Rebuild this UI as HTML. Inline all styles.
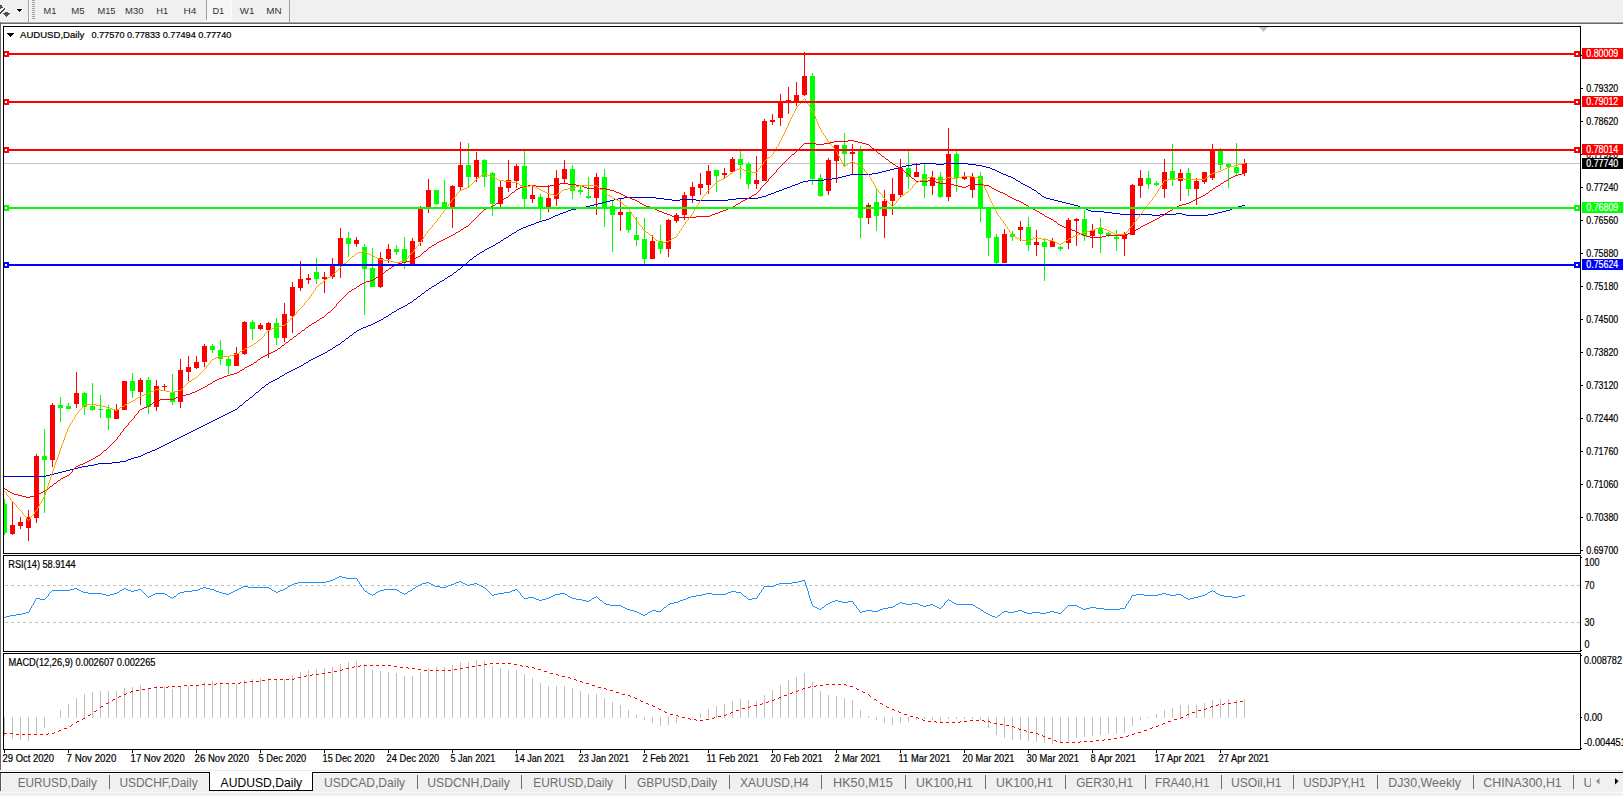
<!DOCTYPE html><html><head><meta charset="utf-8"><style>
html,body{margin:0;padding:0;width:1623px;height:796px;overflow:hidden;background:#fff}
svg{display:block;font-family:"Liberation Sans",sans-serif}
</style></head><body>
<svg width="1623" height="796" viewBox="0 0 1623 796">
<rect x="0" y="0" width="1623" height="22" fill="#f0f0f0"/>
<rect x="0" y="21" width="1623" height="1" fill="#f7f7f7"/>
<rect x="0" y="22" width="1623" height="1" fill="#a8a8a8"/>
<rect x="0" y="23" width="1623" height="1" fill="#6b6b6b"/>
<path d="M0 5h1v1h-1zM1 5h1v1h-1zM0 6h1v1h-1zM1 6h1v1h-1zM0 7h1v1h-1zM1 7h1v1h-1zM2 7h1v1h-1zM0 8h1v1h-1zM4 8h1v1h-1zM3 9h1v1h-1zM4 9h1v1h-1zM2 10h1v1h-1zM3 10h1v1h-1zM1 11h1v1h-1zM2 11h1v1h-1zM0 12h1v1h-1zM1 12h1v1h-1zM0 13h1v1h-1z" fill="#4a4a4a" shape-rendering="crispEdges"/>
<path d="M5 12h1v1h-1zM6 12h1v1h-1zM7 12h1v1h-1zM3 13h1v1h-1zM4 13h1v1h-1zM5 13h1v1h-1zM6 13h1v1h-1zM7 13h1v1h-1zM8 13h1v1h-1zM9 13h1v1h-1zM4 14h1v1h-1zM5 14h1v1h-1zM6 14h1v1h-1zM7 14h1v1h-1zM8 14h1v1h-1zM5 15h1v1h-1zM6 15h1v1h-1zM7 15h1v1h-1zM6 16h1v1h-1z" fill="#505050" shape-rendering="crispEdges"/>
<path d="M17 8h5v1h-5zM17 10h1v1h-1zM21 10h1v1h-1zM18 11h1v1h-1zM20 11h1v1h-1zM19 12h1v1h-1zM16 9h1v1h-1zM22 9h1v1h-1z" fill="#fff" shape-rendering="crispEdges"/>
<path d="M17 9h5v1h-1v1h-1v1h-1v-1h-1v-1h-1z" fill="#000" shape-rendering="crispEdges"/>
<rect x="28" y="0" width="1" height="22" fill="#a0a0a0"/>
<rect x="29" y="0" width="1" height="22" fill="#fafafa"/>
<rect x="32" y="0" width="3" height="1" fill="#a0a0a0"/>
<rect x="32" y="2" width="3" height="1" fill="#a0a0a0"/>
<rect x="32" y="4" width="3" height="1" fill="#a0a0a0"/>
<rect x="32" y="6" width="3" height="1" fill="#a0a0a0"/>
<rect x="32" y="8" width="3" height="1" fill="#a0a0a0"/>
<rect x="32" y="10" width="3" height="1" fill="#a0a0a0"/>
<rect x="32" y="12" width="3" height="1" fill="#a0a0a0"/>
<rect x="32" y="14" width="3" height="1" fill="#a0a0a0"/>
<rect x="32" y="16" width="3" height="1" fill="#a0a0a0"/>
<rect x="32" y="18" width="3" height="1" fill="#a0a0a0"/>
<defs><pattern id="chk" x="0" y="0" width="2" height="2" patternUnits="userSpaceOnUse"><rect width="2" height="2" fill="#f0f0f0"/><rect width="1" height="1" fill="#fcfcfc"/><rect x="1" y="1" width="1" height="1" fill="#fcfcfc"/></pattern></defs>
<rect x="207" y="0" width="24" height="20" fill="url(#chk)" shape-rendering="crispEdges"/>
<rect x="231" y="0" width="1" height="21" fill="#fcfcfc"/>
<rect x="206" y="20" width="26" height="1" fill="#fcfcfc"/>
<rect x="206" y="0" width="1" height="20" fill="#a0a0a0"/>
<rect x="289" y="0" width="1" height="22" fill="#a0a0a0"/>
<text x="43.5" y="14" font-size="9.9" fill="#333" stroke="#333" stroke-width="0" textLength="12.8" lengthAdjust="spacingAndGlyphs">M1</text>
<text x="71.2" y="14" font-size="9.9" fill="#333" stroke="#333" stroke-width="0" textLength="13.3" lengthAdjust="spacingAndGlyphs">M5</text>
<text x="97.4" y="14" font-size="9.9" fill="#333" stroke="#333" stroke-width="0" textLength="18.1" lengthAdjust="spacingAndGlyphs">M15</text>
<text x="125.1" y="14" font-size="9.9" fill="#333" stroke="#333" stroke-width="0" textLength="18.4" lengthAdjust="spacingAndGlyphs">M30</text>
<text x="156.3" y="14" font-size="9.9" fill="#333" stroke="#333" stroke-width="0" textLength="11.9" lengthAdjust="spacingAndGlyphs">H1</text>
<text x="183.4" y="14" font-size="9.9" fill="#333" stroke="#333" stroke-width="0" textLength="12.9" lengthAdjust="spacingAndGlyphs">H4</text>
<text x="212.4" y="14" font-size="9.9" fill="#333" stroke="#333" stroke-width="0" textLength="11.8" lengthAdjust="spacingAndGlyphs">D1</text>
<text x="239.8" y="14" font-size="9.9" fill="#333" stroke="#333" stroke-width="0" textLength="14.6" lengthAdjust="spacingAndGlyphs">W1</text>
<text x="266.2" y="14" font-size="9.9" fill="#333" stroke="#333" stroke-width="0" textLength="15.3" lengthAdjust="spacingAndGlyphs">MN</text>
<rect x="0" y="22" width="1" height="748" fill="#6b6b6b"/>
<g shape-rendering="crispEdges" fill="none" stroke="#000" stroke-width="1">
<rect x="3.5" y="26.5" width="1577" height="527"/>
<rect x="3.5" y="555.5" width="1577" height="96"/>
<rect x="3.5" y="653.5" width="1577" height="96"/>
</g>
<svg x="4" y="27" width="1576" height="526" viewBox="4 27 1576 526" overflow="hidden">
<g shape-rendering="crispEdges">
<rect x="4" y="163" width="1576" height="1" fill="#c0c0c0"/>
</g>
<g shape-rendering="crispEdges">
<rect x="4" y="499" width="1" height="36" fill="#00ff00"/>
<rect x="2" y="504" width="5" height="29" fill="#00ff00"/>
<rect x="12" y="502" width="1" height="33" fill="#ff0000"/>
<rect x="10" y="525" width="5" height="9" fill="#ff0000"/>
<rect x="20" y="517" width="1" height="12" fill="#ff0000"/>
<rect x="18" y="522" width="5" height="4" fill="#ff0000"/>
<rect x="28" y="510" width="1" height="31" fill="#ff0000"/>
<rect x="26" y="517" width="5" height="11" fill="#ff0000"/>
<rect x="36" y="454" width="1" height="69" fill="#ff0000"/>
<rect x="34" y="456" width="5" height="62" fill="#ff0000"/>
<rect x="44" y="429" width="1" height="84" fill="#00ff00"/>
<rect x="42" y="456" width="5" height="4" fill="#00ff00"/>
<rect x="52" y="403" width="1" height="64" fill="#ff0000"/>
<rect x="50" y="405" width="5" height="55" fill="#ff0000"/>
<rect x="60" y="397" width="1" height="25" fill="#00ff00"/>
<rect x="58" y="405" width="5" height="3" fill="#00ff00"/>
<rect x="68" y="403" width="1" height="6" fill="#00ff00"/>
<rect x="66" y="406" width="5" height="3" fill="#00ff00"/>
<rect x="76" y="372" width="1" height="36" fill="#ff0000"/>
<rect x="74" y="393" width="5" height="11" fill="#ff0000"/>
<rect x="84" y="392" width="1" height="23" fill="#00ff00"/>
<rect x="82" y="393" width="5" height="14" fill="#00ff00"/>
<rect x="92" y="383" width="1" height="28" fill="#00ff00"/>
<rect x="90" y="406" width="5" height="4" fill="#00ff00"/>
<rect x="100" y="395" width="1" height="23" fill="#00ff00"/>
<rect x="98" y="409" width="5" height="1" fill="#00ff00"/>
<rect x="108" y="405" width="1" height="25" fill="#00ff00"/>
<rect x="106" y="409" width="5" height="9" fill="#00ff00"/>
<rect x="116" y="404" width="1" height="15" fill="#ff0000"/>
<rect x="114" y="410" width="5" height="9" fill="#ff0000"/>
<rect x="124" y="381" width="1" height="29" fill="#ff0000"/>
<rect x="122" y="381" width="5" height="29" fill="#ff0000"/>
<rect x="132" y="373" width="1" height="25" fill="#00ff00"/>
<rect x="130" y="381" width="5" height="10" fill="#00ff00"/>
<rect x="140" y="378" width="1" height="27" fill="#ff0000"/>
<rect x="138" y="380" width="5" height="12" fill="#ff0000"/>
<rect x="148" y="377" width="1" height="37" fill="#00ff00"/>
<rect x="146" y="380" width="5" height="27" fill="#00ff00"/>
<rect x="156" y="380" width="1" height="31" fill="#ff0000"/>
<rect x="154" y="386" width="5" height="21" fill="#ff0000"/>
<rect x="164" y="384" width="1" height="6" fill="#ff0000"/>
<rect x="162" y="386" width="5" height="1" fill="#ff0000"/>
<rect x="172" y="374" width="1" height="31" fill="#00ff00"/>
<rect x="170" y="392" width="5" height="10" fill="#00ff00"/>
<rect x="180" y="359" width="1" height="49" fill="#ff0000"/>
<rect x="178" y="370" width="5" height="32" fill="#ff0000"/>
<rect x="188" y="356" width="1" height="25" fill="#ff0000"/>
<rect x="186" y="367" width="5" height="5" fill="#ff0000"/>
<rect x="196" y="356" width="1" height="13" fill="#ff0000"/>
<rect x="194" y="362" width="5" height="6" fill="#ff0000"/>
<rect x="204" y="344" width="1" height="23" fill="#ff0000"/>
<rect x="202" y="346" width="5" height="16" fill="#ff0000"/>
<rect x="212" y="344" width="1" height="9" fill="#00ff00"/>
<rect x="210" y="346" width="5" height="4" fill="#00ff00"/>
<rect x="220" y="340" width="1" height="25" fill="#00ff00"/>
<rect x="218" y="350" width="5" height="9" fill="#00ff00"/>
<rect x="228" y="357" width="1" height="17" fill="#00ff00"/>
<rect x="226" y="359" width="5" height="7" fill="#00ff00"/>
<rect x="236" y="347" width="1" height="19" fill="#ff0000"/>
<rect x="234" y="353" width="5" height="13" fill="#ff0000"/>
<rect x="244" y="321" width="1" height="34" fill="#ff0000"/>
<rect x="242" y="322" width="5" height="32" fill="#ff0000"/>
<rect x="252" y="320" width="1" height="20" fill="#00ff00"/>
<rect x="250" y="322" width="5" height="7" fill="#00ff00"/>
<rect x="260" y="323" width="1" height="7" fill="#ff0000"/>
<rect x="258" y="325" width="5" height="4" fill="#ff0000"/>
<rect x="268" y="322" width="1" height="36" fill="#ff0000"/>
<rect x="266" y="323" width="5" height="7" fill="#ff0000"/>
<rect x="276" y="318" width="1" height="27" fill="#00ff00"/>
<rect x="274" y="323" width="5" height="15" fill="#00ff00"/>
<rect x="284" y="303" width="1" height="39" fill="#ff0000"/>
<rect x="282" y="314" width="5" height="24" fill="#ff0000"/>
<rect x="292" y="282" width="1" height="51" fill="#ff0000"/>
<rect x="290" y="287" width="5" height="29" fill="#ff0000"/>
<rect x="300" y="261" width="1" height="30" fill="#ff0000"/>
<rect x="298" y="279" width="5" height="9" fill="#ff0000"/>
<rect x="308" y="274" width="1" height="10" fill="#ff0000"/>
<rect x="306" y="278" width="5" height="2" fill="#ff0000"/>
<rect x="316" y="258" width="1" height="26" fill="#00ff00"/>
<rect x="314" y="272" width="5" height="7" fill="#00ff00"/>
<rect x="324" y="272" width="1" height="21" fill="#ff0000"/>
<rect x="322" y="277" width="5" height="2" fill="#ff0000"/>
<rect x="332" y="258" width="1" height="21" fill="#ff0000"/>
<rect x="330" y="265" width="5" height="12" fill="#ff0000"/>
<rect x="340" y="228" width="1" height="50" fill="#ff0000"/>
<rect x="338" y="238" width="5" height="26" fill="#ff0000"/>
<rect x="348" y="232" width="1" height="25" fill="#00ff00"/>
<rect x="346" y="238" width="5" height="6" fill="#00ff00"/>
<rect x="356" y="237" width="1" height="10" fill="#ff0000"/>
<rect x="354" y="240" width="5" height="4" fill="#ff0000"/>
<rect x="364" y="244" width="1" height="71" fill="#00ff00"/>
<rect x="362" y="247" width="5" height="22" fill="#00ff00"/>
<rect x="372" y="248" width="1" height="39" fill="#00ff00"/>
<rect x="370" y="268" width="5" height="19" fill="#00ff00"/>
<rect x="380" y="252" width="1" height="36" fill="#ff0000"/>
<rect x="378" y="258" width="5" height="29" fill="#ff0000"/>
<rect x="388" y="244" width="1" height="19" fill="#ff0000"/>
<rect x="386" y="249" width="5" height="10" fill="#ff0000"/>
<rect x="396" y="245" width="1" height="10" fill="#00ff00"/>
<rect x="394" y="249" width="5" height="3" fill="#00ff00"/>
<rect x="404" y="237" width="1" height="32" fill="#00ff00"/>
<rect x="402" y="249" width="5" height="13" fill="#00ff00"/>
<rect x="412" y="238" width="1" height="26" fill="#ff0000"/>
<rect x="410" y="241" width="5" height="23" fill="#ff0000"/>
<rect x="420" y="206" width="1" height="40" fill="#ff0000"/>
<rect x="418" y="209" width="5" height="33" fill="#ff0000"/>
<rect x="428" y="179" width="1" height="34" fill="#ff0000"/>
<rect x="426" y="190" width="5" height="17" fill="#ff0000"/>
<rect x="436" y="190" width="1" height="15" fill="#00ff00"/>
<rect x="434" y="190" width="5" height="14" fill="#00ff00"/>
<rect x="444" y="180" width="1" height="28" fill="#00ff00"/>
<rect x="442" y="202" width="5" height="6" fill="#00ff00"/>
<rect x="452" y="185" width="1" height="43" fill="#ff0000"/>
<rect x="450" y="186" width="5" height="22" fill="#ff0000"/>
<rect x="460" y="142" width="1" height="48" fill="#ff0000"/>
<rect x="458" y="165" width="5" height="22" fill="#ff0000"/>
<rect x="468" y="143" width="1" height="45" fill="#00ff00"/>
<rect x="466" y="165" width="5" height="12" fill="#00ff00"/>
<rect x="476" y="152" width="1" height="30" fill="#ff0000"/>
<rect x="474" y="160" width="5" height="17" fill="#ff0000"/>
<rect x="484" y="159" width="1" height="28" fill="#00ff00"/>
<rect x="482" y="160" width="5" height="17" fill="#00ff00"/>
<rect x="492" y="172" width="1" height="44" fill="#00ff00"/>
<rect x="490" y="173" width="5" height="31" fill="#00ff00"/>
<rect x="500" y="181" width="1" height="26" fill="#ff0000"/>
<rect x="498" y="187" width="5" height="17" fill="#ff0000"/>
<rect x="508" y="160" width="1" height="32" fill="#ff0000"/>
<rect x="506" y="180" width="5" height="8" fill="#ff0000"/>
<rect x="516" y="164" width="1" height="24" fill="#ff0000"/>
<rect x="514" y="166" width="5" height="15" fill="#ff0000"/>
<rect x="524" y="151" width="1" height="56" fill="#00ff00"/>
<rect x="522" y="166" width="5" height="33" fill="#00ff00"/>
<rect x="532" y="185" width="1" height="18" fill="#ff0000"/>
<rect x="530" y="195" width="5" height="4" fill="#ff0000"/>
<rect x="540" y="194" width="1" height="26" fill="#00ff00"/>
<rect x="538" y="197" width="5" height="10" fill="#00ff00"/>
<rect x="548" y="185" width="1" height="27" fill="#ff0000"/>
<rect x="546" y="198" width="5" height="9" fill="#ff0000"/>
<rect x="556" y="170" width="1" height="36" fill="#ff0000"/>
<rect x="554" y="178" width="5" height="21" fill="#ff0000"/>
<rect x="564" y="160" width="1" height="24" fill="#ff0000"/>
<rect x="562" y="169" width="5" height="10" fill="#ff0000"/>
<rect x="572" y="165" width="1" height="34" fill="#00ff00"/>
<rect x="570" y="169" width="5" height="22" fill="#00ff00"/>
<rect x="580" y="186" width="1" height="9" fill="#00ff00"/>
<rect x="578" y="190" width="5" height="2" fill="#00ff00"/>
<rect x="588" y="177" width="1" height="22" fill="#00ff00"/>
<rect x="586" y="196" width="5" height="2" fill="#00ff00"/>
<rect x="596" y="173" width="1" height="42" fill="#ff0000"/>
<rect x="594" y="177" width="5" height="21" fill="#ff0000"/>
<rect x="604" y="169" width="1" height="58" fill="#00ff00"/>
<rect x="602" y="177" width="5" height="30" fill="#00ff00"/>
<rect x="612" y="200" width="1" height="52" fill="#00ff00"/>
<rect x="610" y="206" width="5" height="9" fill="#00ff00"/>
<rect x="620" y="199" width="1" height="32" fill="#ff0000"/>
<rect x="618" y="212" width="5" height="3" fill="#ff0000"/>
<rect x="628" y="212" width="1" height="21" fill="#00ff00"/>
<rect x="626" y="212" width="5" height="18" fill="#00ff00"/>
<rect x="636" y="217" width="1" height="29" fill="#00ff00"/>
<rect x="634" y="235" width="5" height="5" fill="#00ff00"/>
<rect x="644" y="218" width="1" height="46" fill="#00ff00"/>
<rect x="642" y="239" width="5" height="20" fill="#00ff00"/>
<rect x="652" y="235" width="1" height="24" fill="#ff0000"/>
<rect x="650" y="241" width="5" height="18" fill="#ff0000"/>
<rect x="660" y="225" width="1" height="29" fill="#00ff00"/>
<rect x="658" y="241" width="5" height="8" fill="#00ff00"/>
<rect x="668" y="219" width="1" height="38" fill="#ff0000"/>
<rect x="666" y="220" width="5" height="29" fill="#ff0000"/>
<rect x="676" y="213" width="1" height="10" fill="#ff0000"/>
<rect x="674" y="215" width="5" height="6" fill="#ff0000"/>
<rect x="684" y="192" width="1" height="28" fill="#ff0000"/>
<rect x="682" y="195" width="5" height="20" fill="#ff0000"/>
<rect x="692" y="182" width="1" height="21" fill="#ff0000"/>
<rect x="690" y="187" width="5" height="9" fill="#ff0000"/>
<rect x="700" y="173" width="1" height="22" fill="#ff0000"/>
<rect x="698" y="184" width="5" height="4" fill="#ff0000"/>
<rect x="708" y="165" width="1" height="29" fill="#ff0000"/>
<rect x="706" y="171" width="5" height="14" fill="#ff0000"/>
<rect x="716" y="170" width="1" height="22" fill="#00ff00"/>
<rect x="714" y="170" width="5" height="6" fill="#00ff00"/>
<rect x="724" y="168" width="1" height="10" fill="#ff0000"/>
<rect x="722" y="173" width="5" height="2" fill="#ff0000"/>
<rect x="732" y="157" width="1" height="15" fill="#ff0000"/>
<rect x="730" y="159" width="5" height="13" fill="#ff0000"/>
<rect x="740" y="151" width="1" height="28" fill="#00ff00"/>
<rect x="738" y="159" width="5" height="6" fill="#00ff00"/>
<rect x="748" y="162" width="1" height="27" fill="#00ff00"/>
<rect x="746" y="164" width="5" height="20" fill="#00ff00"/>
<rect x="756" y="156" width="1" height="33" fill="#ff0000"/>
<rect x="754" y="180" width="5" height="4" fill="#ff0000"/>
<rect x="764" y="119" width="1" height="62" fill="#ff0000"/>
<rect x="762" y="121" width="5" height="60" fill="#ff0000"/>
<rect x="772" y="114" width="1" height="11" fill="#ff0000"/>
<rect x="770" y="120" width="5" height="2" fill="#ff0000"/>
<rect x="780" y="94" width="1" height="32" fill="#ff0000"/>
<rect x="778" y="101" width="5" height="17" fill="#ff0000"/>
<rect x="788" y="87" width="1" height="27" fill="#ff0000"/>
<rect x="786" y="100" width="5" height="1" fill="#ff0000"/>
<rect x="796" y="82" width="1" height="24" fill="#ff0000"/>
<rect x="794" y="95" width="5" height="7" fill="#ff0000"/>
<rect x="804" y="52" width="1" height="44" fill="#ff0000"/>
<rect x="802" y="76" width="5" height="19" fill="#ff0000"/>
<rect x="812" y="73" width="1" height="112" fill="#00ff00"/>
<rect x="810" y="76" width="5" height="103" fill="#00ff00"/>
<rect x="820" y="174" width="1" height="23" fill="#00ff00"/>
<rect x="818" y="178" width="5" height="18" fill="#00ff00"/>
<rect x="828" y="158" width="1" height="37" fill="#ff0000"/>
<rect x="826" y="160" width="5" height="31" fill="#ff0000"/>
<rect x="836" y="145" width="1" height="38" fill="#ff0000"/>
<rect x="834" y="145" width="5" height="16" fill="#ff0000"/>
<rect x="844" y="133" width="1" height="33" fill="#00ff00"/>
<rect x="842" y="145" width="5" height="9" fill="#00ff00"/>
<rect x="852" y="144" width="1" height="30" fill="#ff0000"/>
<rect x="850" y="152" width="5" height="2" fill="#ff0000"/>
<rect x="860" y="146" width="1" height="92" fill="#00ff00"/>
<rect x="858" y="150" width="5" height="68" fill="#00ff00"/>
<rect x="868" y="203" width="1" height="21" fill="#ff0000"/>
<rect x="866" y="205" width="5" height="13" fill="#ff0000"/>
<rect x="876" y="189" width="1" height="42" fill="#00ff00"/>
<rect x="874" y="202" width="5" height="14" fill="#00ff00"/>
<rect x="884" y="190" width="1" height="48" fill="#ff0000"/>
<rect x="882" y="201" width="5" height="15" fill="#ff0000"/>
<rect x="892" y="178" width="1" height="37" fill="#ff0000"/>
<rect x="890" y="194" width="5" height="7" fill="#ff0000"/>
<rect x="900" y="159" width="1" height="38" fill="#ff0000"/>
<rect x="898" y="168" width="5" height="27" fill="#ff0000"/>
<rect x="908" y="151" width="1" height="38" fill="#00ff00"/>
<rect x="906" y="168" width="5" height="9" fill="#00ff00"/>
<rect x="916" y="163" width="1" height="14" fill="#ff0000"/>
<rect x="914" y="172" width="5" height="5" fill="#ff0000"/>
<rect x="924" y="164" width="1" height="34" fill="#00ff00"/>
<rect x="922" y="174" width="5" height="12" fill="#00ff00"/>
<rect x="932" y="171" width="1" height="24" fill="#ff0000"/>
<rect x="930" y="177" width="5" height="9" fill="#ff0000"/>
<rect x="940" y="172" width="1" height="26" fill="#00ff00"/>
<rect x="938" y="177" width="5" height="20" fill="#00ff00"/>
<rect x="948" y="128" width="1" height="73" fill="#ff0000"/>
<rect x="946" y="154" width="5" height="43" fill="#ff0000"/>
<rect x="956" y="151" width="1" height="41" fill="#00ff00"/>
<rect x="954" y="154" width="5" height="24" fill="#00ff00"/>
<rect x="964" y="172" width="1" height="8" fill="#ff0000"/>
<rect x="962" y="177" width="5" height="2" fill="#ff0000"/>
<rect x="972" y="173" width="1" height="25" fill="#ff0000"/>
<rect x="970" y="177" width="5" height="13" fill="#ff0000"/>
<rect x="980" y="172" width="1" height="50" fill="#00ff00"/>
<rect x="978" y="176" width="5" height="32" fill="#00ff00"/>
<rect x="988" y="208" width="1" height="48" fill="#00ff00"/>
<rect x="986" y="208" width="5" height="30" fill="#00ff00"/>
<rect x="996" y="234" width="1" height="30" fill="#00ff00"/>
<rect x="994" y="237" width="5" height="26" fill="#00ff00"/>
<rect x="1004" y="229" width="1" height="34" fill="#ff0000"/>
<rect x="1002" y="234" width="5" height="29" fill="#ff0000"/>
<rect x="1012" y="231" width="1" height="10" fill="#00ff00"/>
<rect x="1010" y="234" width="5" height="3" fill="#00ff00"/>
<rect x="1020" y="221" width="1" height="20" fill="#ff0000"/>
<rect x="1018" y="227" width="5" height="3" fill="#ff0000"/>
<rect x="1028" y="217" width="1" height="34" fill="#00ff00"/>
<rect x="1026" y="227" width="5" height="18" fill="#00ff00"/>
<rect x="1036" y="230" width="1" height="26" fill="#ff0000"/>
<rect x="1034" y="242" width="5" height="3" fill="#ff0000"/>
<rect x="1044" y="238" width="1" height="43" fill="#00ff00"/>
<rect x="1042" y="242" width="5" height="5" fill="#00ff00"/>
<rect x="1052" y="238" width="1" height="9" fill="#ff0000"/>
<rect x="1050" y="241" width="5" height="6" fill="#ff0000"/>
<rect x="1060" y="246" width="1" height="5" fill="#00ff00"/>
<rect x="1058" y="247" width="5" height="2" fill="#00ff00"/>
<rect x="1068" y="218" width="1" height="31" fill="#ff0000"/>
<rect x="1066" y="220" width="5" height="23" fill="#ff0000"/>
<rect x="1076" y="218" width="1" height="28" fill="#ff0000"/>
<rect x="1074" y="219" width="5" height="2" fill="#ff0000"/>
<rect x="1084" y="210" width="1" height="31" fill="#00ff00"/>
<rect x="1082" y="219" width="5" height="17" fill="#00ff00"/>
<rect x="1092" y="224" width="1" height="24" fill="#ff0000"/>
<rect x="1090" y="230" width="5" height="6" fill="#ff0000"/>
<rect x="1100" y="218" width="1" height="35" fill="#00ff00"/>
<rect x="1098" y="228" width="5" height="6" fill="#00ff00"/>
<rect x="1108" y="232" width="1" height="5" fill="#00ff00"/>
<rect x="1106" y="233" width="5" height="2" fill="#00ff00"/>
<rect x="1116" y="230" width="1" height="21" fill="#00ff00"/>
<rect x="1114" y="237" width="5" height="2" fill="#00ff00"/>
<rect x="1124" y="232" width="1" height="24" fill="#ff0000"/>
<rect x="1122" y="234" width="5" height="5" fill="#ff0000"/>
<rect x="1132" y="184" width="1" height="51" fill="#ff0000"/>
<rect x="1130" y="185" width="5" height="50" fill="#ff0000"/>
<rect x="1140" y="170" width="1" height="28" fill="#ff0000"/>
<rect x="1138" y="178" width="5" height="8" fill="#ff0000"/>
<rect x="1148" y="171" width="1" height="18" fill="#00ff00"/>
<rect x="1146" y="178" width="5" height="6" fill="#00ff00"/>
<rect x="1156" y="181" width="1" height="5" fill="#00ff00"/>
<rect x="1154" y="183" width="5" height="2" fill="#00ff00"/>
<rect x="1164" y="159" width="1" height="39" fill="#ff0000"/>
<rect x="1162" y="172" width="5" height="17" fill="#ff0000"/>
<rect x="1172" y="144" width="1" height="42" fill="#00ff00"/>
<rect x="1170" y="171" width="5" height="9" fill="#00ff00"/>
<rect x="1180" y="169" width="1" height="32" fill="#ff0000"/>
<rect x="1178" y="173" width="5" height="8" fill="#ff0000"/>
<rect x="1188" y="168" width="1" height="28" fill="#00ff00"/>
<rect x="1186" y="173" width="5" height="16" fill="#00ff00"/>
<rect x="1196" y="178" width="1" height="27" fill="#ff0000"/>
<rect x="1194" y="181" width="5" height="8" fill="#ff0000"/>
<rect x="1204" y="172" width="1" height="12" fill="#ff0000"/>
<rect x="1202" y="172" width="5" height="10" fill="#ff0000"/>
<rect x="1212" y="144" width="1" height="36" fill="#ff0000"/>
<rect x="1210" y="150" width="5" height="28" fill="#ff0000"/>
<rect x="1220" y="148" width="1" height="22" fill="#00ff00"/>
<rect x="1218" y="151" width="5" height="14" fill="#00ff00"/>
<rect x="1228" y="163" width="1" height="25" fill="#00ff00"/>
<rect x="1226" y="164" width="5" height="3" fill="#00ff00"/>
<rect x="1236" y="143" width="1" height="32" fill="#00ff00"/>
<rect x="1234" y="167" width="5" height="6" fill="#00ff00"/>
<rect x="1244" y="159" width="1" height="17" fill="#ff0000"/>
<rect x="1242" y="163" width="5" height="10" fill="#ff0000"/>
</g>
<path d="M920 163h16v1h-16zM944 163h24v1h-24zM912 164h8v1h-8zM936 164h8v1h-8zM968 164h8v1h-8zM906 165h6v1h-6zM976 165h6v1h-6zM902 166h4v1h-4zM982 166h4v1h-4zM898 167h4v1h-4zM986 167h4v1h-4zM894 168h4v1h-4zM990 168h2v1h-2zM890 169h4v1h-4zM992 169h3v1h-3zM886 170h4v1h-4zM995 170h2v1h-2zM882 171h4v1h-4zM997 171h2v1h-2zM878 172h4v1h-4zM999 172h2v1h-2zM872 173h6v1h-6zM1001 173h2v1h-2zM850 174h22v1h-22zM1003 174h3v1h-3zM846 175h4v1h-4zM1006 175h2v1h-2zM842 176h4v1h-4zM1008 176h3v1h-3zM838 177h4v1h-4zM1011 177h2v1h-2zM832 178h6v1h-6zM1013 178h2v1h-2zM824 179h8v1h-8zM1015 179h1v1h-1zM808 180h16v1h-16zM1016 180h2v1h-2zM803 181h5v1h-5zM1018 181h2v1h-2zM800 182h3v1h-3zM1020 182h1v1h-1zM798 183h2v1h-2zM1021 183h2v1h-2zM795 184h3v1h-3zM1023 184h2v1h-2zM792 185h3v1h-3zM1025 185h2v1h-2zM790 186h2v1h-2zM1027 186h2v1h-2zM787 187h3v1h-3zM1029 187h2v1h-2zM784 188h3v1h-3zM1031 188h1v1h-1zM782 189h2v1h-2zM1032 189h2v1h-2zM779 190h3v1h-3zM1034 190h2v1h-2zM776 191h3v1h-3zM1036 191h1v1h-1zM774 192h2v1h-2zM1037 192h1v1h-1zM771 193h3v1h-3zM1038 193h2v1h-2zM768 194h3v1h-3zM1040 194h1v1h-1zM766 195h2v1h-2zM1041 195h1v1h-1zM762 196h4v1h-4zM1042 196h2v1h-2zM624 197h32v1h-32zM758 197h4v1h-4zM1044 197h2v1h-2zM618 198h6v1h-6zM656 198h8v1h-8zM736 198h22v1h-22zM1046 198h4v1h-4zM614 199h4v1h-4zM664 199h8v1h-8zM680 199h16v1h-16zM728 199h8v1h-8zM1050 199h4v1h-4zM610 200h4v1h-4zM672 200h8v1h-8zM696 200h32v1h-32zM1054 200h4v1h-4zM606 201h4v1h-4zM1058 201h4v1h-4zM602 202h4v1h-4zM1062 202h4v1h-4zM598 203h4v1h-4zM1066 203h4v1h-4zM594 204h4v1h-4zM1070 204h4v1h-4zM590 205h4v1h-4zM1074 205h4v1h-4zM1242 205h3v1h-3zM586 206h4v1h-4zM1078 206h2v1h-2zM1238 206h4v1h-4zM582 207h4v1h-4zM1080 207h3v1h-3zM1235 207h3v1h-3zM576 208h6v1h-6zM1083 208h3v1h-3zM1232 208h3v1h-3zM571 209h5v1h-5zM1086 209h2v1h-2zM1230 209h2v1h-2zM568 210h3v1h-3zM1088 210h3v1h-3zM1226 210h4v1h-4zM566 211h2v1h-2zM1091 211h13v1h-13zM1222 211h4v1h-4zM563 212h3v1h-3zM1104 212h8v1h-8zM1218 212h4v1h-4zM560 213h3v1h-3zM1112 213h8v1h-8zM1176 213h6v1h-6zM1214 213h4v1h-4zM558 214h2v1h-2zM1120 214h32v1h-32zM1160 214h16v1h-16zM1182 214h4v1h-4zM1208 214h6v1h-6zM555 215h3v1h-3zM1152 215h8v1h-8zM1186 215h22v1h-22zM553 216h2v1h-2zM551 217h2v1h-2zM549 218h2v1h-2zM546 219h3v1h-3zM542 220h4v1h-4zM539 221h3v1h-3zM536 222h3v1h-3zM534 223h2v1h-2zM531 224h3v1h-3zM528 225h3v1h-3zM526 226h2v1h-2zM523 227h3v1h-3zM521 228h2v1h-2zM519 229h2v1h-2zM517 230h2v1h-2zM516 231h1v1h-1zM514 232h2v1h-2zM512 233h2v1h-2zM511 234h1v1h-1zM509 235h2v1h-2zM508 236h1v1h-1zM506 237h2v1h-2zM504 238h2v1h-2zM503 239h1v1h-1zM501 240h2v1h-2zM500 241h1v1h-1zM498 242h2v1h-2zM496 243h2v1h-2zM495 244h1v1h-1zM493 245h2v1h-2zM491 246h2v1h-2zM489 247h2v1h-2zM487 248h2v1h-2zM485 249h2v1h-2zM484 250h1v1h-1zM482 251h2v1h-2zM480 252h2v1h-2zM479 253h1v1h-1zM477 254h2v1h-2zM476 255h1v1h-1zM474 256h2v1h-2zM473 257h1v1h-1zM472 258h1v1h-1zM470 259h2v1h-2zM469 260h1v1h-1zM468 261h1v1h-1zM467 262h1v1h-1zM466 263h1v1h-1zM464 264h2v1h-2zM463 265h1v1h-1zM462 266h1v1h-1zM461 267h1v1h-1zM460 268h1v1h-1zM458 269h2v1h-2zM457 270h1v1h-1zM456 271h1v1h-1zM454 272h2v1h-2zM453 273h1v1h-1zM452 274h1v1h-1zM450 275h2v1h-2zM448 276h2v1h-2zM447 277h1v1h-1zM445 278h2v1h-2zM444 279h1v1h-1zM442 280h2v1h-2zM440 281h2v1h-2zM439 282h1v1h-1zM437 283h2v1h-2zM436 284h1v1h-1zM434 285h2v1h-2zM432 286h2v1h-2zM431 287h1v1h-1zM429 288h2v1h-2zM428 289h1v1h-1zM426 290h2v1h-2zM425 291h1v1h-1zM424 292h1v1h-1zM422 293h2v1h-2zM421 294h1v1h-1zM420 295h1v1h-1zM418 296h2v1h-2zM417 297h1v1h-1zM416 298h1v1h-1zM414 299h2v1h-2zM413 300h1v1h-1zM412 301h1v1h-1zM410 302h2v1h-2zM408 303h2v1h-2zM407 304h1v1h-1zM405 305h2v1h-2zM403 306h2v1h-2zM401 307h2v1h-2zM399 308h2v1h-2zM397 309h2v1h-2zM396 310h1v1h-1zM394 311h2v1h-2zM392 312h2v1h-2zM391 313h1v1h-1zM389 314h2v1h-2zM388 315h1v1h-1zM386 316h2v1h-2zM384 317h2v1h-2zM383 318h1v1h-1zM381 319h2v1h-2zM379 320h2v1h-2zM377 321h2v1h-2zM375 322h2v1h-2zM373 323h2v1h-2zM371 324h2v1h-2zM368 325h3v1h-3zM366 326h2v1h-2zM363 327h3v1h-3zM361 328h2v1h-2zM359 329h2v1h-2zM357 330h2v1h-2zM356 331h1v1h-1zM354 332h2v1h-2zM353 333h1v1h-1zM352 334h1v1h-1zM350 335h2v1h-2zM349 336h1v1h-1zM348 337h1v1h-1zM346 338h2v1h-2zM345 339h1v1h-1zM344 340h1v1h-1zM342 341h2v1h-2zM341 342h1v1h-1zM340 343h1v1h-1zM338 344h2v1h-2zM336 345h2v1h-2zM335 346h1v1h-1zM333 347h2v1h-2zM332 348h1v1h-1zM330 349h2v1h-2zM328 350h2v1h-2zM327 351h1v1h-1zM325 352h2v1h-2zM323 353h2v1h-2zM321 354h2v1h-2zM319 355h2v1h-2zM317 356h2v1h-2zM315 357h2v1h-2zM313 358h2v1h-2zM311 359h2v1h-2zM309 360h2v1h-2zM308 361h1v1h-1zM306 362h2v1h-2zM304 363h2v1h-2zM303 364h1v1h-1zM301 365h2v1h-2zM299 366h2v1h-2zM297 367h2v1h-2zM295 368h2v1h-2zM293 369h2v1h-2zM291 370h2v1h-2zM289 371h2v1h-2zM287 372h2v1h-2zM285 373h2v1h-2zM284 374h1v1h-1zM282 375h2v1h-2zM280 376h2v1h-2zM279 377h1v1h-1zM277 378h2v1h-2zM275 379h2v1h-2zM273 380h2v1h-2zM271 381h2v1h-2zM269 382h2v1h-2zM268 383h1v1h-1zM266 384h2v1h-2zM265 385h1v1h-1zM264 386h1v1h-1zM262 387h2v1h-2zM261 388h1v1h-1zM260 389h1v1h-1zM259 390h1v1h-1zM258 391h1v1h-1zM256 392h2v1h-2zM255 393h1v1h-1zM254 394h1v1h-1zM253 395h1v1h-1zM252 396h1v1h-1zM250 397h2v1h-2zM249 398h1v1h-1zM248 399h1v1h-1zM246 400h2v1h-2zM245 401h1v1h-1zM244 402h1v1h-1zM243 403h1v1h-1zM242 404h1v1h-1zM240 405h2v1h-2zM239 406h1v1h-1zM238 407h1v1h-1zM237 408h1v1h-1zM235 409h2v1h-2zM233 410h2v1h-2zM231 411h2v1h-2zM229 412h2v1h-2zM227 413h2v1h-2zM225 414h2v1h-2zM223 415h2v1h-2zM221 416h2v1h-2zM219 417h2v1h-2zM217 418h2v1h-2zM215 419h2v1h-2zM213 420h2v1h-2zM211 421h2v1h-2zM209 422h2v1h-2zM207 423h2v1h-2zM205 424h2v1h-2zM203 425h2v1h-2zM201 426h2v1h-2zM199 427h2v1h-2zM197 428h2v1h-2zM195 429h2v1h-2zM193 430h2v1h-2zM191 431h2v1h-2zM189 432h2v1h-2zM187 433h2v1h-2zM185 434h2v1h-2zM183 435h2v1h-2zM181 436h2v1h-2zM179 437h2v1h-2zM177 438h2v1h-2zM175 439h2v1h-2zM173 440h2v1h-2zM171 441h2v1h-2zM169 442h2v1h-2zM167 443h2v1h-2zM165 444h2v1h-2zM163 445h2v1h-2zM161 446h2v1h-2zM159 447h2v1h-2zM157 448h2v1h-2zM155 449h2v1h-2zM152 450h3v1h-3zM150 451h2v1h-2zM147 452h3v1h-3zM145 453h2v1h-2zM143 454h2v1h-2zM141 455h2v1h-2zM138 456h3v1h-3zM134 457h4v1h-4zM131 458h3v1h-3zM128 459h3v1h-3zM126 460h2v1h-2zM120 461h6v1h-6zM112 462h8v1h-8zM98 463h14v1h-14zM94 464h4v1h-4zM88 465h6v1h-6zM82 466h6v1h-6zM78 467h4v1h-4zM74 468h4v1h-4zM70 469h4v1h-4zM66 470h4v1h-4zM62 471h4v1h-4zM58 472h4v1h-4zM54 473h4v1h-4zM50 474h4v1h-4zM46 475h4v1h-4zM4 476h42v1h-42z" fill="#0000cd" shape-rendering="crispEdges"/>
<path d="M848 140h6v1h-6zM834 141h14v1h-14zM854 141h4v1h-4zM830 142h4v1h-4zM858 142h4v1h-4zM804 143h12v1h-12zM824 143h6v1h-6zM862 143h4v1h-4zM803 144h1v1h-1zM816 144h8v1h-8zM866 144h3v1h-3zM802 145h1v1h-1zM869 145h1v1h-1zM801 146h1v1h-1zM870 146h1v1h-1zM800 147h1v1h-1zM871 147h1v1h-1zM799 148h1v1h-1zM872 148h2v1h-2zM798 149h1v1h-1zM874 149h1v1h-1zM797 150h1v1h-1zM875 150h1v1h-1zM796 151h1v1h-1zM876 151h1v1h-1zM795 152h1v1h-1zM877 152h1v1h-1zM794 153h1v1h-1zM878 153h2v1h-2zM792 154h2v1h-2zM880 154h1v1h-1zM791 155h1v1h-1zM881 155h1v1h-1zM790 156h1v1h-1zM882 156h2v1h-2zM789 157h1v1h-1zM884 157h1v1h-1zM788 158h1v1h-1zM885 158h1v1h-1zM787 159h1v1h-1zM886 159h2v1h-2zM786 160h1v1h-1zM888 160h1v1h-1zM785 161h1v1h-1zM889 161h1v1h-1zM784 162h1v1h-1zM890 162h2v1h-2zM783 163h1v1h-1zM892 163h1v1h-1zM782 164h1v1h-1zM893 164h2v1h-2zM781 165h1v1h-1zM895 165h1v1h-1zM780 166h1v1h-1zM896 166h2v1h-2zM779 167h1v1h-1zM898 167h2v1h-2zM778 168h1v1h-1zM900 168h1v1h-1zM777 169h1v1h-1zM901 169h1v1h-1zM776 170h1v1h-1zM902 170h2v1h-2zM776 171h1v1h-1zM904 171h1v1h-1zM775 172h1v1h-1zM905 172h1v1h-1zM774 173h1v1h-1zM906 173h2v1h-2zM1242 173h3v1h-3zM773 174h1v1h-1zM908 174h1v1h-1zM1238 174h4v1h-4zM772 175h1v1h-1zM909 175h1v1h-1zM1235 175h3v1h-3zM771 176h1v1h-1zM910 176h1v1h-1zM1233 176h2v1h-2zM770 177h1v1h-1zM911 177h1v1h-1zM1231 177h2v1h-2zM769 178h1v1h-1zM912 178h2v1h-2zM1229 178h2v1h-2zM768 179h1v1h-1zM914 179h1v1h-1zM1228 179h1v1h-1zM768 180h1v1h-1zM915 180h1v1h-1zM928 180h6v1h-6zM1226 180h2v1h-2zM767 181h1v1h-1zM916 181h12v1h-12zM934 181h2v1h-2zM1224 181h2v1h-2zM766 182h1v1h-1zM936 182h3v1h-3zM1223 182h1v1h-1zM560 183h8v1h-8zM765 183h1v1h-1zM939 183h11v1h-11zM1221 183h2v1h-2zM554 184h6v1h-6zM568 184h8v1h-8zM764 184h1v1h-1zM950 184h4v1h-4zM971 184h13v1h-13zM1220 184h1v1h-1zM528 185h8v1h-8zM550 185h4v1h-4zM576 185h6v1h-6zM763 185h1v1h-1zM954 185h4v1h-4zM968 185h3v1h-3zM984 185h5v1h-5zM1218 185h2v1h-2zM523 186h5v1h-5zM536 186h14v1h-14zM582 186h2v1h-2zM762 186h1v1h-1zM958 186h4v1h-4zM966 186h2v1h-2zM989 186h2v1h-2zM1216 186h2v1h-2zM520 187h3v1h-3zM584 187h3v1h-3zM761 187h1v1h-1zM962 187h4v1h-4zM991 187h1v1h-1zM1215 187h1v1h-1zM518 188h2v1h-2zM587 188h19v1h-19zM760 188h1v1h-1zM992 188h2v1h-2zM1213 188h2v1h-2zM516 189h2v1h-2zM606 189h4v1h-4zM760 189h1v1h-1zM994 189h2v1h-2zM1212 189h1v1h-1zM515 190h1v1h-1zM610 190h4v1h-4zM759 190h1v1h-1zM996 190h2v1h-2zM1210 190h2v1h-2zM514 191h1v1h-1zM614 191h2v1h-2zM758 191h1v1h-1zM998 191h2v1h-2zM1209 191h1v1h-1zM512 192h2v1h-2zM616 192h3v1h-3zM757 192h1v1h-1zM1000 192h3v1h-3zM1208 192h1v1h-1zM511 193h1v1h-1zM619 193h2v1h-2zM756 193h1v1h-1zM1003 193h2v1h-2zM1206 193h2v1h-2zM510 194h1v1h-1zM621 194h2v1h-2zM754 194h2v1h-2zM1005 194h2v1h-2zM1205 194h1v1h-1zM509 195h1v1h-1zM623 195h2v1h-2zM752 195h2v1h-2zM1007 195h1v1h-1zM1203 195h2v1h-2zM508 196h1v1h-1zM625 196h2v1h-2zM751 196h1v1h-1zM1008 196h2v1h-2zM1201 196h2v1h-2zM506 197h2v1h-2zM627 197h3v1h-3zM749 197h2v1h-2zM1010 197h2v1h-2zM1199 197h2v1h-2zM504 198h2v1h-2zM630 198h2v1h-2zM747 198h2v1h-2zM1012 198h2v1h-2zM1197 198h2v1h-2zM503 199h1v1h-1zM632 199h3v1h-3zM745 199h2v1h-2zM1014 199h2v1h-2zM1195 199h2v1h-2zM501 200h2v1h-2zM635 200h2v1h-2zM743 200h2v1h-2zM1016 200h3v1h-3zM1193 200h2v1h-2zM500 201h1v1h-1zM637 201h2v1h-2zM741 201h2v1h-2zM1019 201h2v1h-2zM1191 201h2v1h-2zM498 202h2v1h-2zM639 202h1v1h-1zM740 202h1v1h-1zM1021 202h2v1h-2zM1189 202h2v1h-2zM496 203h2v1h-2zM640 203h2v1h-2zM738 203h2v1h-2zM1023 203h1v1h-1zM1186 203h3v1h-3zM495 204h1v1h-1zM642 204h2v1h-2zM736 204h2v1h-2zM1024 204h2v1h-2zM1182 204h4v1h-4zM493 205h2v1h-2zM644 205h2v1h-2zM735 205h1v1h-1zM1026 205h2v1h-2zM1179 205h3v1h-3zM491 206h2v1h-2zM646 206h4v1h-4zM733 206h2v1h-2zM1028 206h1v1h-1zM1177 206h2v1h-2zM488 207h3v1h-3zM650 207h3v1h-3zM731 207h2v1h-2zM1029 207h2v1h-2zM1175 207h2v1h-2zM486 208h2v1h-2zM653 208h2v1h-2zM728 208h3v1h-3zM1031 208h2v1h-2zM1173 208h2v1h-2zM484 209h2v1h-2zM655 209h2v1h-2zM726 209h2v1h-2zM1033 209h2v1h-2zM1172 209h1v1h-1zM483 210h1v1h-1zM657 210h2v1h-2zM723 210h3v1h-3zM1035 210h2v1h-2zM1170 210h2v1h-2zM482 211h1v1h-1zM659 211h3v1h-3zM720 211h3v1h-3zM1037 211h2v1h-2zM1168 211h2v1h-2zM481 212h1v1h-1zM662 212h2v1h-2zM718 212h2v1h-2zM1039 212h1v1h-1zM1167 212h1v1h-1zM480 213h1v1h-1zM664 213h3v1h-3zM715 213h3v1h-3zM1040 213h2v1h-2zM1165 213h2v1h-2zM479 214h1v1h-1zM667 214h3v1h-3zM712 214h3v1h-3zM1042 214h2v1h-2zM1164 214h1v1h-1zM478 215h1v1h-1zM670 215h2v1h-2zM710 215h2v1h-2zM1044 215h1v1h-1zM1162 215h2v1h-2zM477 216h1v1h-1zM672 216h3v1h-3zM696 216h14v1h-14zM1045 216h2v1h-2zM1160 216h2v1h-2zM476 217h1v1h-1zM675 217h21v1h-21zM1047 217h2v1h-2zM1159 217h1v1h-1zM475 218h1v1h-1zM1049 218h2v1h-2zM1157 218h2v1h-2zM474 219h1v1h-1zM1051 219h2v1h-2zM1155 219h2v1h-2zM473 220h1v1h-1zM1053 220h1v1h-1zM1153 220h2v1h-2zM472 221h1v1h-1zM1054 221h2v1h-2zM1151 221h2v1h-2zM471 222h1v1h-1zM1056 222h1v1h-1zM1149 222h2v1h-2zM470 223h1v1h-1zM1057 223h1v1h-1zM1147 223h2v1h-2zM469 224h1v1h-1zM1058 224h2v1h-2zM1145 224h2v1h-2zM468 225h1v1h-1zM1060 225h2v1h-2zM1143 225h2v1h-2zM466 226h2v1h-2zM1062 226h2v1h-2zM1141 226h2v1h-2zM464 227h2v1h-2zM1064 227h3v1h-3zM1140 227h1v1h-1zM463 228h1v1h-1zM1067 228h3v1h-3zM1138 228h2v1h-2zM461 229h2v1h-2zM1070 229h2v1h-2zM1136 229h2v1h-2zM460 230h1v1h-1zM1072 230h3v1h-3zM1135 230h1v1h-1zM458 231h2v1h-2zM1075 231h2v1h-2zM1133 231h2v1h-2zM456 232h2v1h-2zM1077 232h2v1h-2zM1131 232h2v1h-2zM455 233h1v1h-1zM1079 233h2v1h-2zM1128 233h3v1h-3zM453 234h2v1h-2zM1081 234h2v1h-2zM1126 234h2v1h-2zM451 235h2v1h-2zM1083 235h3v1h-3zM1106 235h20v1h-20zM449 236h2v1h-2zM1086 236h4v1h-4zM1102 236h4v1h-4zM447 237h2v1h-2zM1090 237h12v1h-12zM445 238h2v1h-2zM443 239h2v1h-2zM441 240h2v1h-2zM439 241h2v1h-2zM437 242h2v1h-2zM436 243h1v1h-1zM434 244h2v1h-2zM432 245h2v1h-2zM431 246h1v1h-1zM429 247h2v1h-2zM428 248h1v1h-1zM427 249h1v1h-1zM426 250h1v1h-1zM424 251h2v1h-2zM423 252h1v1h-1zM422 253h1v1h-1zM421 254h1v1h-1zM420 255h1v1h-1zM418 256h2v1h-2zM416 257h2v1h-2zM415 258h1v1h-1zM413 259h2v1h-2zM410 260h3v1h-3zM406 261h4v1h-4zM402 262h4v1h-4zM398 263h4v1h-4zM396 264h2v1h-2zM394 265h2v1h-2zM392 266h2v1h-2zM391 267h1v1h-1zM389 268h2v1h-2zM388 269h1v1h-1zM386 270h2v1h-2zM385 271h1v1h-1zM384 272h1v1h-1zM382 273h2v1h-2zM381 274h1v1h-1zM380 275h1v1h-1zM378 276h2v1h-2zM376 277h2v1h-2zM375 278h1v1h-1zM373 279h2v1h-2zM370 280h3v1h-3zM366 281h4v1h-4zM364 282h2v1h-2zM362 283h2v1h-2zM360 284h2v1h-2zM359 285h1v1h-1zM357 286h2v1h-2zM356 287h1v1h-1zM354 288h2v1h-2zM352 289h2v1h-2zM351 290h1v1h-1zM349 291h2v1h-2zM348 292h1v1h-1zM347 293h1v1h-1zM346 294h1v1h-1zM345 295h1v1h-1zM344 296h1v1h-1zM343 297h1v1h-1zM342 298h1v1h-1zM341 299h1v1h-1zM340 300h1v1h-1zM339 301h1v1h-1zM338 302h1v1h-1zM337 303h1v1h-1zM336 304h1v1h-1zM336 305h1v1h-1zM335 306h1v1h-1zM334 307h1v1h-1zM333 308h1v1h-1zM332 309h1v1h-1zM331 310h1v1h-1zM330 311h1v1h-1zM328 312h2v1h-2zM327 313h1v1h-1zM326 314h1v1h-1zM325 315h1v1h-1zM324 316h1v1h-1zM322 317h2v1h-2zM320 318h2v1h-2zM319 319h1v1h-1zM317 320h2v1h-2zM316 321h1v1h-1zM314 322h2v1h-2zM312 323h2v1h-2zM311 324h1v1h-1zM309 325h2v1h-2zM308 326h1v1h-1zM306 327h2v1h-2zM305 328h1v1h-1zM304 329h1v1h-1zM302 330h2v1h-2zM301 331h1v1h-1zM300 332h1v1h-1zM298 333h2v1h-2zM297 334h1v1h-1zM296 335h1v1h-1zM294 336h2v1h-2zM293 337h1v1h-1zM292 338h1v1h-1zM290 339h2v1h-2zM289 340h1v1h-1zM288 341h1v1h-1zM286 342h2v1h-2zM285 343h1v1h-1zM284 344h1v1h-1zM282 345h2v1h-2zM281 346h1v1h-1zM280 347h1v1h-1zM278 348h2v1h-2zM277 349h1v1h-1zM275 350h2v1h-2zM273 351h2v1h-2zM271 352h2v1h-2zM269 353h2v1h-2zM267 354h2v1h-2zM265 355h2v1h-2zM263 356h2v1h-2zM261 357h2v1h-2zM260 358h1v1h-1zM258 359h2v1h-2zM257 360h1v1h-1zM256 361h1v1h-1zM254 362h2v1h-2zM253 363h1v1h-1zM251 364h2v1h-2zM249 365h2v1h-2zM247 366h2v1h-2zM245 367h2v1h-2zM244 368h1v1h-1zM242 369h2v1h-2zM240 370h2v1h-2zM239 371h1v1h-1zM237 372h2v1h-2zM234 373h3v1h-3zM230 374h4v1h-4zM227 375h3v1h-3zM224 376h3v1h-3zM222 377h2v1h-2zM219 378h3v1h-3zM217 379h2v1h-2zM215 380h2v1h-2zM213 381h2v1h-2zM212 382h1v1h-1zM210 383h2v1h-2zM208 384h2v1h-2zM207 385h1v1h-1zM205 386h2v1h-2zM203 387h2v1h-2zM201 388h2v1h-2zM199 389h2v1h-2zM197 390h2v1h-2zM195 391h2v1h-2zM192 392h3v1h-3zM190 393h2v1h-2zM186 394h4v1h-4zM182 395h4v1h-4zM179 396h3v1h-3zM176 397h3v1h-3zM174 398h2v1h-2zM160 399h14v1h-14zM156 400h4v1h-4zM154 401h2v1h-2zM153 402h1v1h-1zM152 403h1v1h-1zM150 404h2v1h-2zM149 405h1v1h-1zM147 406h2v1h-2zM144 407h3v1h-3zM142 408h2v1h-2zM140 409h2v1h-2zM139 410h1v1h-1zM138 411h1v1h-1zM138 412h1v1h-1zM137 413h1v1h-1zM136 414h1v1h-1zM135 415h1v1h-1zM134 416h1v1h-1zM134 417h1v1h-1zM133 418h1v1h-1zM132 419h1v1h-1zM131 420h1v1h-1zM130 421h1v1h-1zM129 422h1v1h-1zM128 423h1v1h-1zM128 424h1v1h-1zM127 425h1v1h-1zM126 426h1v1h-1zM125 427h1v1h-1zM124 428h1v1h-1zM123 429h1v1h-1zM123 430h1v1h-1zM122 431h1v1h-1zM121 432h1v1h-1zM120 433h1v1h-1zM120 434h1v1h-1zM119 435h1v1h-1zM118 436h1v1h-1zM117 437h1v1h-1zM117 438h1v1h-1zM116 439h1v1h-1zM115 440h1v1h-1zM114 441h1v1h-1zM113 442h1v1h-1zM112 443h1v1h-1zM111 444h1v1h-1zM110 445h1v1h-1zM109 446h1v1h-1zM108 447h1v1h-1zM107 448h1v1h-1zM106 449h1v1h-1zM104 450h2v1h-2zM103 451h1v1h-1zM102 452h1v1h-1zM101 453h1v1h-1zM100 454h1v1h-1zM98 455h2v1h-2zM96 456h2v1h-2zM95 457h1v1h-1zM93 458h2v1h-2zM91 459h2v1h-2zM89 460h2v1h-2zM87 461h2v1h-2zM85 462h2v1h-2zM83 463h2v1h-2zM80 464h3v1h-3zM78 465h2v1h-2zM76 466h2v1h-2zM75 467h1v1h-1zM74 468h1v1h-1zM73 469h1v1h-1zM72 470h1v1h-1zM72 471h1v1h-1zM71 472h1v1h-1zM70 473h1v1h-1zM69 474h1v1h-1zM67 475h2v1h-2zM65 476h2v1h-2zM63 477h2v1h-2zM61 478h2v1h-2zM60 479h1v1h-1zM58 480h2v1h-2zM57 481h1v1h-1zM56 482h1v1h-1zM54 483h2v1h-2zM53 484h1v1h-1zM52 485h1v1h-1zM50 486h2v1h-2zM49 487h1v1h-1zM4 488h1v1h-1zM48 488h1v1h-1zM5 489h2v1h-2zM46 489h2v1h-2zM7 490h1v1h-1zM45 490h1v1h-1zM8 491h2v1h-2zM43 491h2v1h-2zM10 492h2v1h-2zM41 492h2v1h-2zM12 493h2v1h-2zM39 493h2v1h-2zM14 494h4v1h-4zM37 494h2v1h-2zM18 495h4v1h-4zM34 495h3v1h-3zM22 496h4v1h-4zM30 496h4v1h-4zM26 497h4v1h-4z" fill="#ff0000" shape-rendering="crispEdges"/>
<path d="M804 98h1v1h-1zM803 99h1v1h-1zM805 99h1v1h-1zM802 100h1v1h-1zM805 100h1v1h-1zM801 101h1v1h-1zM806 101h1v1h-1zM800 102h1v1h-1zM807 102h1v1h-1zM800 103h1v1h-1zM807 103h1v1h-1zM799 104h1v1h-1zM808 104h1v1h-1zM798 105h1v1h-1zM809 105h1v1h-1zM797 106h1v1h-1zM809 106h1v1h-1zM796 107h1v1h-1zM810 107h1v1h-1zM796 108h1v1h-1zM811 108h1v1h-1zM795 109h1v1h-1zM811 109h1v1h-1zM795 110h1v1h-1zM812 110h1v1h-1zM794 111h1v1h-1zM812 111h1v1h-1zM794 112h1v1h-1zM813 112h1v1h-1zM793 113h1v1h-1zM813 113h1v1h-1zM793 114h1v1h-1zM814 114h1v1h-1zM792 115h1v1h-1zM814 115h1v1h-1zM792 116h1v1h-1zM815 116h1v1h-1zM791 117h1v1h-1zM815 117h1v1h-1zM791 118h1v1h-1zM815 118h1v1h-1zM790 119h1v1h-1zM816 119h1v1h-1zM790 120h1v1h-1zM816 120h1v1h-1zM789 121h1v1h-1zM817 121h1v1h-1zM789 122h1v1h-1zM817 122h1v1h-1zM788 123h1v1h-1zM817 123h1v1h-1zM788 124h1v1h-1zM818 124h1v1h-1zM788 125h1v1h-1zM818 125h1v1h-1zM787 126h1v1h-1zM819 126h1v1h-1zM787 127h1v1h-1zM819 127h1v1h-1zM786 128h1v1h-1zM820 128h1v1h-1zM786 129h1v1h-1zM820 129h1v1h-1zM785 130h1v1h-1zM821 130h1v1h-1zM785 131h1v1h-1zM821 131h1v1h-1zM784 132h1v1h-1zM822 132h1v1h-1zM784 133h1v1h-1zM823 133h1v1h-1zM783 134h1v1h-1zM823 134h1v1h-1zM783 135h1v1h-1zM824 135h1v1h-1zM782 136h1v1h-1zM825 136h1v1h-1zM782 137h1v1h-1zM825 137h1v1h-1zM781 138h1v1h-1zM826 138h1v1h-1zM781 139h1v1h-1zM827 139h1v1h-1zM780 140h1v1h-1zM827 140h1v1h-1zM780 141h1v1h-1zM828 141h1v1h-1zM779 142h1v1h-1zM829 142h1v1h-1zM779 143h1v1h-1zM830 143h1v1h-1zM778 144h1v1h-1zM830 144h1v1h-1zM778 145h1v1h-1zM831 145h1v1h-1zM777 146h1v1h-1zM832 146h1v1h-1zM776 147h1v1h-1zM833 147h1v1h-1zM776 148h1v1h-1zM834 148h1v1h-1zM775 149h1v1h-1zM834 149h1v1h-1zM774 150h1v1h-1zM835 150h1v1h-1zM774 151h1v1h-1zM836 151h1v1h-1zM773 152h1v1h-1zM837 152h1v1h-1zM773 153h1v1h-1zM837 153h1v1h-1zM772 154h1v1h-1zM838 154h1v1h-1zM771 155h1v1h-1zM838 155h1v1h-1zM770 156h1v1h-1zM839 156h1v1h-1zM768 157h2v1h-2zM839 157h1v1h-1zM767 158h1v1h-1zM840 158h1v1h-1zM766 159h1v1h-1zM840 159h1v1h-1zM765 160h1v1h-1zM841 160h1v1h-1zM764 161h1v1h-1zM841 161h1v1h-1zM852 161h1v1h-1zM763 162h1v1h-1zM842 162h1v1h-1zM850 162h2v1h-2zM853 162h2v1h-2zM763 163h1v1h-1zM842 163h1v1h-1zM848 163h2v1h-2zM855 163h2v1h-2zM1242 163h3v1h-3zM762 164h1v1h-1zM843 164h1v1h-1zM847 164h1v1h-1zM857 164h2v1h-2zM1238 164h4v1h-4zM761 165h1v1h-1zM843 165h1v1h-1zM845 165h2v1h-2zM859 165h2v1h-2zM1234 165h4v1h-4zM760 166h1v1h-1zM844 166h1v1h-1zM861 166h1v1h-1zM1230 166h4v1h-4zM760 167h1v1h-1zM862 167h1v1h-1zM1227 167h3v1h-3zM739 168h3v1h-3zM759 168h1v1h-1zM863 168h1v1h-1zM1225 168h2v1h-2zM737 169h2v1h-2zM742 169h2v1h-2zM758 169h1v1h-1zM864 169h1v1h-1zM1223 169h2v1h-2zM735 170h2v1h-2zM744 170h3v1h-3zM757 170h1v1h-1zM864 170h1v1h-1zM1221 170h2v1h-2zM733 171h2v1h-2zM747 171h5v1h-5zM757 171h1v1h-1zM865 171h1v1h-1zM1218 171h3v1h-3zM732 172h1v1h-1zM752 172h5v1h-5zM866 172h1v1h-1zM1214 172h4v1h-4zM484 173h2v1h-2zM730 173h2v1h-2zM867 173h1v1h-1zM1212 173h2v1h-2zM482 174h2v1h-2zM486 174h2v1h-2zM729 174h1v1h-1zM868 174h1v1h-1zM1210 174h2v1h-2zM481 175h1v1h-1zM488 175h3v1h-3zM728 175h1v1h-1zM869 175h1v1h-1zM1209 175h1v1h-1zM480 176h1v1h-1zM491 176h2v1h-2zM726 176h2v1h-2zM869 176h1v1h-1zM931 176h2v1h-2zM962 176h12v1h-12zM1208 176h1v1h-1zM478 177h2v1h-2zM493 177h2v1h-2zM725 177h1v1h-1zM870 177h1v1h-1zM928 177h3v1h-3zM933 177h2v1h-2zM947 177h5v1h-5zM958 177h4v1h-4zM974 177h4v1h-4zM1206 177h2v1h-2zM477 178h1v1h-1zM495 178h2v1h-2zM723 178h2v1h-2zM870 178h1v1h-1zM926 178h2v1h-2zM935 178h1v1h-1zM945 178h2v1h-2zM952 178h6v1h-6zM978 178h3v1h-3zM1176 178h8v1h-8zM1205 178h1v1h-1zM476 179h1v1h-1zM497 179h2v1h-2zM721 179h2v1h-2zM871 179h1v1h-1zM923 179h3v1h-3zM936 179h2v1h-2zM943 179h2v1h-2zM980 179h1v1h-1zM1168 179h8v1h-8zM1184 179h21v1h-21zM475 180h1v1h-1zM499 180h5v1h-5zM719 180h2v1h-2zM871 180h1v1h-1zM920 180h3v1h-3zM938 180h2v1h-2zM941 180h2v1h-2zM981 180h1v1h-1zM1164 180h4v1h-4zM474 181h1v1h-1zM504 181h8v1h-8zM717 181h2v1h-2zM872 181h1v1h-1zM918 181h2v1h-2zM940 181h1v1h-1zM981 181h1v1h-1zM1163 181h1v1h-1zM473 182h1v1h-1zM512 182h5v1h-5zM716 182h1v1h-1zM873 182h1v1h-1zM916 182h2v1h-2zM982 182h1v1h-1zM1163 182h1v1h-1zM472 183h1v1h-1zM517 183h2v1h-2zM715 183h1v1h-1zM873 183h1v1h-1zM915 183h1v1h-1zM982 183h1v1h-1zM1162 183h1v1h-1zM471 184h1v1h-1zM519 184h1v1h-1zM714 184h1v1h-1zM874 184h1v1h-1zM914 184h1v1h-1zM983 184h1v1h-1zM1162 184h1v1h-1zM470 185h1v1h-1zM520 185h2v1h-2zM530 185h3v1h-3zM579 185h18v1h-18zM713 185h1v1h-1zM874 185h1v1h-1zM913 185h1v1h-1zM983 185h1v1h-1zM1161 185h1v1h-1zM469 186h1v1h-1zM522 186h2v1h-2zM526 186h4v1h-4zM533 186h2v1h-2zM576 186h3v1h-3zM597 186h1v1h-1zM712 186h1v1h-1zM875 186h1v1h-1zM912 186h1v1h-1zM984 186h1v1h-1zM1160 186h1v1h-1zM467 187h2v1h-2zM524 187h2v1h-2zM535 187h2v1h-2zM574 187h2v1h-2zM598 187h1v1h-1zM711 187h1v1h-1zM875 187h1v1h-1zM912 187h1v1h-1zM984 187h1v1h-1zM1160 187h1v1h-1zM464 188h3v1h-3zM537 188h2v1h-2zM568 188h6v1h-6zM599 188h1v1h-1zM710 188h1v1h-1zM876 188h1v1h-1zM911 188h1v1h-1zM985 188h1v1h-1zM1159 188h1v1h-1zM462 189h2v1h-2zM539 189h2v1h-2zM564 189h4v1h-4zM600 189h2v1h-2zM709 189h1v1h-1zM877 189h1v1h-1zM910 189h1v1h-1zM985 189h1v1h-1zM1158 189h1v1h-1zM460 190h2v1h-2zM541 190h2v1h-2zM562 190h2v1h-2zM602 190h1v1h-1zM708 190h1v1h-1zM878 190h1v1h-1zM909 190h1v1h-1zM986 190h1v1h-1zM1158 190h1v1h-1zM459 191h1v1h-1zM543 191h2v1h-2zM561 191h1v1h-1zM603 191h1v1h-1zM707 191h1v1h-1zM878 191h1v1h-1zM908 191h1v1h-1zM986 191h1v1h-1zM1157 191h1v1h-1zM458 192h1v1h-1zM545 192h2v1h-2zM560 192h1v1h-1zM604 192h1v1h-1zM706 192h1v1h-1zM879 192h1v1h-1zM906 192h2v1h-2zM987 192h1v1h-1zM1157 192h1v1h-1zM457 193h1v1h-1zM547 193h3v1h-3zM558 193h2v1h-2zM605 193h2v1h-2zM706 193h1v1h-1zM880 193h1v1h-1zM905 193h1v1h-1zM987 193h1v1h-1zM1156 193h1v1h-1zM456 194h1v1h-1zM550 194h4v1h-4zM557 194h1v1h-1zM607 194h1v1h-1zM705 194h1v1h-1zM881 194h1v1h-1zM904 194h1v1h-1zM988 194h1v1h-1zM1155 194h1v1h-1zM456 195h1v1h-1zM554 195h3v1h-3zM608 195h2v1h-2zM704 195h1v1h-1zM882 195h1v1h-1zM902 195h2v1h-2zM988 195h1v1h-1zM1155 195h1v1h-1zM455 196h1v1h-1zM610 196h2v1h-2zM703 196h1v1h-1zM882 196h1v1h-1zM901 196h1v1h-1zM988 196h1v1h-1zM1154 196h1v1h-1zM454 197h1v1h-1zM612 197h1v1h-1zM702 197h1v1h-1zM883 197h1v1h-1zM900 197h1v1h-1zM989 197h1v1h-1zM1153 197h1v1h-1zM453 198h1v1h-1zM613 198h2v1h-2zM702 198h1v1h-1zM884 198h1v1h-1zM899 198h1v1h-1zM989 198h1v1h-1zM1152 198h1v1h-1zM452 199h1v1h-1zM615 199h2v1h-2zM701 199h1v1h-1zM885 199h1v1h-1zM898 199h1v1h-1zM990 199h1v1h-1zM1152 199h1v1h-1zM451 200h1v1h-1zM617 200h2v1h-2zM700 200h1v1h-1zM886 200h1v1h-1zM897 200h1v1h-1zM990 200h1v1h-1zM1151 200h1v1h-1zM451 201h1v1h-1zM619 201h2v1h-2zM699 201h1v1h-1zM887 201h1v1h-1zM896 201h1v1h-1zM991 201h1v1h-1zM1150 201h1v1h-1zM450 202h1v1h-1zM621 202h1v1h-1zM699 202h1v1h-1zM888 202h1v1h-1zM896 202h1v1h-1zM991 202h1v1h-1zM1149 202h1v1h-1zM449 203h1v1h-1zM622 203h1v1h-1zM698 203h1v1h-1zM889 203h1v1h-1zM895 203h1v1h-1zM992 203h1v1h-1zM1149 203h1v1h-1zM448 204h1v1h-1zM623 204h1v1h-1zM698 204h1v1h-1zM890 204h1v1h-1zM894 204h1v1h-1zM992 204h1v1h-1zM1148 204h1v1h-1zM448 205h1v1h-1zM624 205h2v1h-2zM697 205h1v1h-1zM891 205h1v1h-1zM893 205h1v1h-1zM993 205h1v1h-1zM1147 205h1v1h-1zM447 206h1v1h-1zM626 206h1v1h-1zM696 206h1v1h-1zM892 206h1v1h-1zM993 206h1v1h-1zM1146 206h1v1h-1zM446 207h1v1h-1zM627 207h1v1h-1zM696 207h1v1h-1zM994 207h1v1h-1zM1146 207h1v1h-1zM445 208h1v1h-1zM628 208h1v1h-1zM695 208h1v1h-1zM994 208h1v1h-1zM1145 208h1v1h-1zM445 209h1v1h-1zM629 209h1v1h-1zM694 209h1v1h-1zM995 209h1v1h-1zM1144 209h1v1h-1zM444 210h1v1h-1zM629 210h1v1h-1zM694 210h1v1h-1zM995 210h1v1h-1zM1143 210h1v1h-1zM443 211h1v1h-1zM630 211h1v1h-1zM693 211h1v1h-1zM996 211h1v1h-1zM1142 211h1v1h-1zM443 212h1v1h-1zM631 212h1v1h-1zM693 212h1v1h-1zM996 212h1v1h-1zM1142 212h1v1h-1zM442 213h1v1h-1zM631 213h1v1h-1zM692 213h1v1h-1zM997 213h1v1h-1zM1141 213h1v1h-1zM441 214h1v1h-1zM632 214h1v1h-1zM691 214h1v1h-1zM997 214h1v1h-1zM1140 214h1v1h-1zM440 215h1v1h-1zM633 215h1v1h-1zM691 215h1v1h-1zM998 215h1v1h-1zM1139 215h1v1h-1zM440 216h1v1h-1zM633 216h1v1h-1zM690 216h1v1h-1zM999 216h1v1h-1zM1139 216h1v1h-1zM439 217h1v1h-1zM634 217h1v1h-1zM689 217h1v1h-1zM1000 217h1v1h-1zM1138 217h1v1h-1zM438 218h1v1h-1zM635 218h1v1h-1zM688 218h1v1h-1zM1000 218h1v1h-1zM1137 218h1v1h-1zM437 219h1v1h-1zM635 219h1v1h-1zM688 219h1v1h-1zM1001 219h1v1h-1zM1136 219h1v1h-1zM437 220h1v1h-1zM636 220h1v1h-1zM687 220h1v1h-1zM1002 220h1v1h-1zM1136 220h1v1h-1zM436 221h1v1h-1zM637 221h1v1h-1zM686 221h1v1h-1zM1003 221h1v1h-1zM1135 221h1v1h-1zM435 222h1v1h-1zM638 222h1v1h-1zM685 222h1v1h-1zM1003 222h1v1h-1zM1134 222h1v1h-1zM434 223h1v1h-1zM638 223h1v1h-1zM685 223h1v1h-1zM1004 223h1v1h-1zM1133 223h1v1h-1zM433 224h1v1h-1zM639 224h1v1h-1zM684 224h1v1h-1zM1005 224h1v1h-1zM1133 224h1v1h-1zM432 225h1v1h-1zM640 225h1v1h-1zM683 225h1v1h-1zM1005 225h1v1h-1zM1132 225h1v1h-1zM432 226h1v1h-1zM641 226h1v1h-1zM683 226h1v1h-1zM1006 226h1v1h-1zM1131 226h1v1h-1zM431 227h1v1h-1zM642 227h1v1h-1zM682 227h1v1h-1zM1007 227h1v1h-1zM1099 227h3v1h-3zM1130 227h1v1h-1zM430 228h1v1h-1zM642 228h1v1h-1zM681 228h1v1h-1zM1007 228h1v1h-1zM1096 228h3v1h-3zM1102 228h2v1h-2zM1129 228h1v1h-1zM429 229h1v1h-1zM643 229h1v1h-1zM681 229h1v1h-1zM1008 229h1v1h-1zM1094 229h2v1h-2zM1104 229h3v1h-3zM1128 229h1v1h-1zM428 230h1v1h-1zM644 230h1v1h-1zM680 230h1v1h-1zM1009 230h1v1h-1zM1090 230h4v1h-4zM1107 230h2v1h-2zM1128 230h1v1h-1zM427 231h1v1h-1zM645 231h1v1h-1zM679 231h1v1h-1zM1009 231h1v1h-1zM1086 231h4v1h-4zM1109 231h2v1h-2zM1127 231h1v1h-1zM427 232h1v1h-1zM646 232h2v1h-2zM679 232h1v1h-1zM1010 232h1v1h-1zM1083 232h3v1h-3zM1111 232h2v1h-2zM1126 232h1v1h-1zM426 233h1v1h-1zM648 233h1v1h-1zM678 233h1v1h-1zM1011 233h1v1h-1zM1080 233h3v1h-3zM1113 233h2v1h-2zM1125 233h1v1h-1zM425 234h1v1h-1zM649 234h1v1h-1zM677 234h1v1h-1zM1011 234h1v1h-1zM1078 234h2v1h-2zM1115 234h10v1h-10zM425 235h1v1h-1zM650 235h2v1h-2zM677 235h1v1h-1zM1012 235h1v1h-1zM1075 235h3v1h-3zM424 236h1v1h-1zM652 236h1v1h-1zM676 236h1v1h-1zM1013 236h2v1h-2zM1073 236h2v1h-2zM423 237h1v1h-1zM653 237h1v1h-1zM674 237h2v1h-2zM1015 237h2v1h-2zM1035 237h3v1h-3zM1071 237h2v1h-2zM423 238h1v1h-1zM654 238h1v1h-1zM672 238h2v1h-2zM1017 238h2v1h-2zM1033 238h2v1h-2zM1038 238h4v1h-4zM1069 238h2v1h-2zM422 239h1v1h-1zM655 239h1v1h-1zM671 239h1v1h-1zM1019 239h3v1h-3zM1031 239h2v1h-2zM1042 239h6v1h-6zM1068 239h1v1h-1zM421 240h1v1h-1zM656 240h2v1h-2zM669 240h2v1h-2zM1022 240h4v1h-4zM1029 240h2v1h-2zM1048 240h5v1h-5zM1066 240h2v1h-2zM421 241h1v1h-1zM658 241h1v1h-1zM666 241h3v1h-3zM1026 241h3v1h-3zM1053 241h2v1h-2zM1064 241h2v1h-2zM420 242h1v1h-1zM659 242h1v1h-1zM662 242h4v1h-4zM1055 242h2v1h-2zM1063 242h1v1h-1zM419 243h1v1h-1zM660 243h2v1h-2zM1057 243h2v1h-2zM1061 243h2v1h-2zM418 244h1v1h-1zM1059 244h2v1h-2zM418 245h1v1h-1zM417 246h1v1h-1zM416 247h1v1h-1zM415 248h1v1h-1zM414 249h1v1h-1zM414 250h1v1h-1zM362 251h3v1h-3zM413 251h1v1h-1zM358 252h4v1h-4zM365 252h2v1h-2zM412 252h1v1h-1zM356 253h2v1h-2zM367 253h2v1h-2zM411 253h1v1h-1zM355 254h1v1h-1zM369 254h2v1h-2zM410 254h1v1h-1zM354 255h1v1h-1zM371 255h2v1h-2zM409 255h1v1h-1zM352 256h2v1h-2zM373 256h2v1h-2zM408 256h1v1h-1zM351 257h1v1h-1zM375 257h2v1h-2zM408 257h1v1h-1zM350 258h1v1h-1zM377 258h2v1h-2zM407 258h1v1h-1zM349 259h1v1h-1zM379 259h5v1h-5zM406 259h1v1h-1zM348 260h1v1h-1zM384 260h6v1h-6zM405 260h1v1h-1zM347 261h1v1h-1zM390 261h4v1h-4zM400 261h5v1h-5zM346 262h1v1h-1zM394 262h6v1h-6zM344 263h2v1h-2zM343 264h1v1h-1zM342 265h1v1h-1zM341 266h1v1h-1zM340 267h1v1h-1zM339 268h1v1h-1zM338 269h1v1h-1zM337 270h1v1h-1zM336 271h1v1h-1zM335 272h1v1h-1zM334 273h1v1h-1zM333 274h1v1h-1zM332 275h1v1h-1zM330 276h2v1h-2zM328 277h2v1h-2zM327 278h1v1h-1zM325 279h2v1h-2zM324 280h1v1h-1zM323 281h1v1h-1zM322 282h1v1h-1zM320 283h2v1h-2zM319 284h1v1h-1zM318 285h1v1h-1zM317 286h1v1h-1zM316 287h1v1h-1zM315 288h1v1h-1zM315 289h1v1h-1zM314 290h1v1h-1zM313 291h1v1h-1zM313 292h1v1h-1zM312 293h1v1h-1zM311 294h1v1h-1zM311 295h1v1h-1zM310 296h1v1h-1zM309 297h1v1h-1zM309 298h1v1h-1zM308 299h1v1h-1zM307 300h1v1h-1zM306 301h1v1h-1zM305 302h1v1h-1zM304 303h1v1h-1zM304 304h1v1h-1zM303 305h1v1h-1zM302 306h1v1h-1zM301 307h1v1h-1zM300 308h1v1h-1zM299 309h1v1h-1zM298 310h1v1h-1zM297 311h1v1h-1zM296 312h1v1h-1zM296 313h1v1h-1zM295 314h1v1h-1zM294 315h1v1h-1zM293 316h1v1h-1zM292 317h1v1h-1zM291 318h1v1h-1zM290 319h1v1h-1zM289 320h1v1h-1zM288 321h1v1h-1zM287 322h1v1h-1zM286 323h1v1h-1zM285 324h1v1h-1zM282 325h3v1h-3zM278 326h4v1h-4zM275 327h3v1h-3zM272 328h3v1h-3zM270 329h2v1h-2zM268 330h2v1h-2zM267 331h1v1h-1zM266 332h1v1h-1zM265 333h1v1h-1zM264 334h1v1h-1zM264 335h1v1h-1zM263 336h1v1h-1zM262 337h1v1h-1zM261 338h1v1h-1zM260 339h1v1h-1zM258 340h2v1h-2zM257 341h1v1h-1zM256 342h1v1h-1zM254 343h2v1h-2zM253 344h1v1h-1zM251 345h2v1h-2zM249 346h2v1h-2zM247 347h2v1h-2zM245 348h2v1h-2zM244 349h1v1h-1zM242 350h2v1h-2zM240 351h2v1h-2zM239 352h1v1h-1zM237 353h2v1h-2zM234 354h3v1h-3zM230 355h4v1h-4zM219 356h11v1h-11zM216 357h3v1h-3zM214 358h2v1h-2zM212 359h2v1h-2zM211 360h1v1h-1zM210 361h1v1h-1zM210 362h1v1h-1zM209 363h1v1h-1zM208 364h1v1h-1zM207 365h1v1h-1zM206 366h1v1h-1zM206 367h1v1h-1zM205 368h1v1h-1zM204 369h1v1h-1zM203 370h1v1h-1zM202 371h1v1h-1zM201 372h1v1h-1zM200 373h1v1h-1zM199 374h1v1h-1zM198 375h1v1h-1zM197 376h1v1h-1zM196 377h1v1h-1zM194 378h2v1h-2zM192 379h2v1h-2zM191 380h1v1h-1zM189 381h2v1h-2zM188 382h1v1h-1zM187 383h1v1h-1zM186 384h1v1h-1zM185 385h1v1h-1zM184 386h1v1h-1zM183 387h1v1h-1zM182 388h1v1h-1zM155 389h5v1h-5zM181 389h1v1h-1zM153 390h2v1h-2zM160 390h6v1h-6zM178 390h3v1h-3zM151 391h2v1h-2zM166 391h4v1h-4zM174 391h4v1h-4zM149 392h2v1h-2zM170 392h4v1h-4zM147 393h2v1h-2zM144 394h3v1h-3zM142 395h2v1h-2zM140 396h2v1h-2zM138 397h2v1h-2zM136 398h2v1h-2zM135 399h1v1h-1zM133 400h2v1h-2zM131 401h2v1h-2zM129 402h2v1h-2zM127 403h2v1h-2zM84 404h12v1h-12zM125 404h2v1h-2zM83 405h1v1h-1zM96 405h6v1h-6zM124 405h1v1h-1zM82 406h1v1h-1zM102 406h4v1h-4zM122 406h2v1h-2zM82 407h1v1h-1zM106 407h4v1h-4zM120 407h2v1h-2zM81 408h1v1h-1zM110 408h2v1h-2zM119 408h1v1h-1zM80 409h1v1h-1zM112 409h3v1h-3zM117 409h2v1h-2zM79 410h1v1h-1zM115 410h2v1h-2zM78 411h1v1h-1zM78 412h1v1h-1zM77 413h1v1h-1zM76 414h1v1h-1zM75 415h1v1h-1zM75 416h1v1h-1zM74 417h1v1h-1zM74 418h1v1h-1zM73 419h1v1h-1zM72 420h1v1h-1zM72 421h1v1h-1zM71 422h1v1h-1zM70 423h1v1h-1zM70 424h1v1h-1zM69 425h1v1h-1zM69 426h1v1h-1zM68 427h1v1h-1zM68 428h1v1h-1zM67 429h1v1h-1zM67 430h1v1h-1zM67 431h1v1h-1zM66 432h1v1h-1zM66 433h1v1h-1zM65 434h1v1h-1zM65 435h1v1h-1zM65 436h1v1h-1zM64 437h1v1h-1zM64 438h1v1h-1zM64 439h1v1h-1zM63 440h1v1h-1zM63 441h1v1h-1zM63 442h1v1h-1zM62 443h1v1h-1zM62 444h1v1h-1zM61 445h1v1h-1zM61 446h1v1h-1zM61 447h1v1h-1zM60 448h1v1h-1zM60 449h1v1h-1zM60 450h1v1h-1zM59 451h1v1h-1zM59 452h1v1h-1zM59 453h1v1h-1zM58 454h1v1h-1zM58 455h1v1h-1zM58 456h1v1h-1zM57 457h1v1h-1zM57 458h1v1h-1zM57 459h1v1h-1zM56 460h1v1h-1zM56 461h1v1h-1zM55 462h1v1h-1zM55 463h1v1h-1zM55 464h1v1h-1zM54 465h1v1h-1zM54 466h1v1h-1zM54 467h1v1h-1zM53 468h1v1h-1zM53 469h1v1h-1zM53 470h1v1h-1zM52 471h1v1h-1zM52 472h1v1h-1zM52 473h1v1h-1zM51 474h1v1h-1zM51 475h1v1h-1zM51 476h1v1h-1zM50 477h1v1h-1zM50 478h1v1h-1zM50 479h1v1h-1zM49 480h1v1h-1zM49 481h1v1h-1zM49 482h1v1h-1zM48 483h1v1h-1zM48 484h1v1h-1zM48 485h1v1h-1zM47 486h1v1h-1zM47 487h1v1h-1zM47 488h1v1h-1zM46 489h1v1h-1zM46 490h1v1h-1zM4 491h1v1h-1zM46 491h1v1h-1zM5 492h1v1h-1zM45 492h1v1h-1zM6 493h1v1h-1zM45 493h1v1h-1zM6 494h1v1h-1zM45 494h1v1h-1zM7 495h1v1h-1zM44 495h1v1h-1zM8 496h1v1h-1zM44 496h1v1h-1zM9 497h1v1h-1zM43 497h1v1h-1zM10 498h1v1h-1zM43 498h1v1h-1zM10 499h1v1h-1zM42 499h1v1h-1zM11 500h1v1h-1zM42 500h1v1h-1zM12 501h1v1h-1zM41 501h1v1h-1zM13 502h1v1h-1zM41 502h1v1h-1zM14 503h1v1h-1zM40 503h1v1h-1zM15 504h1v1h-1zM39 504h1v1h-1zM16 505h1v1h-1zM39 505h1v1h-1zM16 506h1v1h-1zM38 506h1v1h-1zM17 507h1v1h-1zM38 507h1v1h-1zM18 508h1v1h-1zM37 508h1v1h-1zM19 509h1v1h-1zM37 509h1v1h-1zM20 510h1v1h-1zM36 510h1v1h-1zM21 511h1v1h-1zM35 511h1v1h-1zM22 512h1v1h-1zM34 512h1v1h-1zM22 513h1v1h-1zM34 513h1v1h-1zM23 514h1v1h-1zM33 514h1v1h-1zM24 515h1v1h-1zM32 515h1v1h-1zM25 516h1v1h-1zM31 516h1v1h-1zM26 517h1v1h-1zM30 517h1v1h-1zM26 518h1v1h-1zM30 518h1v1h-1zM27 519h1v1h-1zM29 519h1v1h-1zM28 520h1v1h-1z" fill="#ffa500" shape-rendering="crispEdges"/>
<g shape-rendering="crispEdges">
<rect x="4" y="53" width="1576" height="2" fill="#ff0000"/>
<rect x="4" y="101" width="1576" height="2" fill="#ff0000"/>
<rect x="4" y="149" width="1576" height="2" fill="#ff0000"/>
<rect x="4" y="207" width="1576" height="2" fill="#00ff00"/>
<rect x="4" y="264" width="1576" height="2" fill="#0000ff"/>
</g>
<g shape-rendering="crispEdges">
<rect x="3" y="51" width="6" height="6" fill="#ff0000"/>
<rect x="5" y="53" width="2" height="2" fill="#fff"/>
</g>
<g shape-rendering="crispEdges">
<rect x="1574" y="51" width="6" height="6" fill="#ff0000"/>
<rect x="1576" y="53" width="2" height="2" fill="#fff"/>
</g>
<g shape-rendering="crispEdges">
<rect x="3" y="99" width="6" height="6" fill="#ff0000"/>
<rect x="5" y="101" width="2" height="2" fill="#fff"/>
</g>
<g shape-rendering="crispEdges">
<rect x="1574" y="99" width="6" height="6" fill="#ff0000"/>
<rect x="1576" y="101" width="2" height="2" fill="#fff"/>
</g>
<g shape-rendering="crispEdges">
<rect x="3" y="147" width="6" height="6" fill="#ff0000"/>
<rect x="5" y="149" width="2" height="2" fill="#fff"/>
</g>
<g shape-rendering="crispEdges">
<rect x="1574" y="147" width="6" height="6" fill="#ff0000"/>
<rect x="1576" y="149" width="2" height="2" fill="#fff"/>
</g>
<g shape-rendering="crispEdges">
<rect x="3" y="205" width="6" height="6" fill="#00ff00"/>
<rect x="5" y="207" width="2" height="2" fill="#fff"/>
</g>
<g shape-rendering="crispEdges">
<rect x="1574" y="205" width="6" height="6" fill="#00ff00"/>
<rect x="1576" y="207" width="2" height="2" fill="#fff"/>
</g>
<g shape-rendering="crispEdges">
<rect x="3" y="262" width="6" height="6" fill="#0000ff"/>
<rect x="5" y="264" width="2" height="2" fill="#fff"/>
</g>
<g shape-rendering="crispEdges">
<rect x="1574" y="262" width="6" height="6" fill="#0000ff"/>
<rect x="1576" y="264" width="2" height="2" fill="#fff"/>
</g>
<path d="M1259 27 L1268 27 L1263.5 32Z" fill="#c0c0c0"/>
<path d="M7 33h7v1h-1v1h-1v1h-1v1h-1v-1h-1v-1h-1v-1h-1z" fill="#000" shape-rendering="crispEdges"/>
<text x="20" y="38" font-size="9.7" fill="#000" stroke="#000" stroke-width="0.2" textLength="64.3" lengthAdjust="spacingAndGlyphs">AUDUSD,Daily</text>
<text x="91.4" y="38" font-size="9.7" fill="#000" stroke="#000" stroke-width="0.2" textLength="140" lengthAdjust="spacingAndGlyphs">0.77570 0.77833 0.77494 0.77740</text>
</svg>
<g shape-rendering="crispEdges">
<rect x="1581" y="55" width="2" height="1" fill="#000"/>
<rect x="1581" y="88" width="2" height="1" fill="#000"/>
<rect x="1581" y="121" width="2" height="1" fill="#000"/>
<rect x="1581" y="154" width="2" height="1" fill="#000"/>
<rect x="1581" y="187" width="2" height="1" fill="#000"/>
<rect x="1581" y="220" width="2" height="1" fill="#000"/>
<rect x="1581" y="253" width="2" height="1" fill="#000"/>
<rect x="1581" y="286" width="2" height="1" fill="#000"/>
<rect x="1581" y="319" width="2" height="1" fill="#000"/>
<rect x="1581" y="352" width="2" height="1" fill="#000"/>
<rect x="1581" y="385" width="2" height="1" fill="#000"/>
<rect x="1581" y="418" width="2" height="1" fill="#000"/>
<rect x="1581" y="451" width="2" height="1" fill="#000"/>
<rect x="1581" y="484" width="2" height="1" fill="#000"/>
<rect x="1581" y="517" width="2" height="1" fill="#000"/>
<rect x="1581" y="550" width="2" height="1" fill="#000"/>
</g>
<text x="1586.3" y="59" font-size="10" fill="#000" stroke="#000" stroke-width="0.2" textLength="32" lengthAdjust="spacingAndGlyphs">0.80000</text>
<text x="1586.3" y="92" font-size="10" fill="#000" stroke="#000" stroke-width="0.2" textLength="32" lengthAdjust="spacingAndGlyphs">0.79320</text>
<text x="1586.3" y="125" font-size="10" fill="#000" stroke="#000" stroke-width="0.2" textLength="32" lengthAdjust="spacingAndGlyphs">0.78620</text>
<text x="1586.3" y="158" font-size="10" fill="#000" stroke="#000" stroke-width="0.2" textLength="32" lengthAdjust="spacingAndGlyphs">0.77920</text>
<text x="1586.3" y="191" font-size="10" fill="#000" stroke="#000" stroke-width="0.2" textLength="32" lengthAdjust="spacingAndGlyphs">0.77240</text>
<text x="1586.3" y="224" font-size="10" fill="#000" stroke="#000" stroke-width="0.2" textLength="32" lengthAdjust="spacingAndGlyphs">0.76560</text>
<text x="1586.3" y="257" font-size="10" fill="#000" stroke="#000" stroke-width="0.2" textLength="32" lengthAdjust="spacingAndGlyphs">0.75880</text>
<text x="1586.3" y="290" font-size="10" fill="#000" stroke="#000" stroke-width="0.2" textLength="32" lengthAdjust="spacingAndGlyphs">0.75180</text>
<text x="1586.3" y="323" font-size="10" fill="#000" stroke="#000" stroke-width="0.2" textLength="32" lengthAdjust="spacingAndGlyphs">0.74500</text>
<text x="1586.3" y="356" font-size="10" fill="#000" stroke="#000" stroke-width="0.2" textLength="32" lengthAdjust="spacingAndGlyphs">0.73820</text>
<text x="1586.3" y="389" font-size="10" fill="#000" stroke="#000" stroke-width="0.2" textLength="32" lengthAdjust="spacingAndGlyphs">0.73120</text>
<text x="1586.3" y="422" font-size="10" fill="#000" stroke="#000" stroke-width="0.2" textLength="32" lengthAdjust="spacingAndGlyphs">0.72440</text>
<text x="1586.3" y="455" font-size="10" fill="#000" stroke="#000" stroke-width="0.2" textLength="32" lengthAdjust="spacingAndGlyphs">0.71760</text>
<text x="1586.3" y="488" font-size="10" fill="#000" stroke="#000" stroke-width="0.2" textLength="32" lengthAdjust="spacingAndGlyphs">0.71060</text>
<text x="1586.3" y="521" font-size="10" fill="#000" stroke="#000" stroke-width="0.2" textLength="32" lengthAdjust="spacingAndGlyphs">0.70380</text>
<text x="1586.3" y="554" font-size="10" fill="#000" stroke="#000" stroke-width="0.2" textLength="32" lengthAdjust="spacingAndGlyphs">0.69700</text>
<rect x="1582" y="48" width="41" height="11" fill="#ff0000" shape-rendering="crispEdges"/>
<text x="1586.3" y="57" font-size="10" fill="#fff" stroke="#fff" stroke-width="0.2" textLength="32" lengthAdjust="spacingAndGlyphs">0.80009</text>
<rect x="1582" y="96" width="41" height="11" fill="#ff0000" shape-rendering="crispEdges"/>
<text x="1586.3" y="105" font-size="10" fill="#fff" stroke="#fff" stroke-width="0.2" textLength="32" lengthAdjust="spacingAndGlyphs">0.79012</text>
<rect x="1582" y="144" width="41" height="11" fill="#ff0000" shape-rendering="crispEdges"/>
<text x="1586.3" y="153" font-size="10" fill="#fff" stroke="#fff" stroke-width="0.2" textLength="32" lengthAdjust="spacingAndGlyphs">0.78014</text>
<rect x="1582" y="158" width="41" height="11" fill="#000000" shape-rendering="crispEdges"/>
<text x="1586.3" y="167" font-size="10" fill="#fff" stroke="#fff" stroke-width="0.2" textLength="32" lengthAdjust="spacingAndGlyphs">0.77740</text>
<rect x="1582" y="202" width="41" height="11" fill="#00ff00" shape-rendering="crispEdges"/>
<text x="1586.3" y="211" font-size="10" fill="#fff" stroke="#fff" stroke-width="0.2" textLength="32" lengthAdjust="spacingAndGlyphs">0.76809</text>
<rect x="1582" y="259" width="41" height="11" fill="#0000ff" shape-rendering="crispEdges"/>
<text x="1586.3" y="268" font-size="10" fill="#fff" stroke="#fff" stroke-width="0.2" textLength="32" lengthAdjust="spacingAndGlyphs">0.75624</text>
<svg x="4" y="556" width="1576" height="95" viewBox="4 556 1576 95" overflow="hidden">
<g shape-rendering="crispEdges">
<line x1="5" y1="585.5" x2="1580" y2="585.5" stroke="#c0c0c0" stroke-width="1" stroke-dasharray="3,3"/>
<line x1="5" y1="622.5" x2="1580" y2="622.5" stroke="#c0c0c0" stroke-width="1" stroke-dasharray="3,3"/>
</g>
<path d="M339 576h3v1h-3zM337 577h2v1h-2zM342 577h4v1h-4zM335 578h2v1h-2zM346 578h11v1h-11zM333 579h2v1h-2zM357 579h1v1h-1zM330 580h3v1h-3zM357 580h1v1h-1zM802 580h3v1h-3zM326 581h4v1h-4zM358 581h1v1h-1zM459 581h2v1h-2zM798 581h4v1h-4zM804 581h1v1h-1zM298 582h28v1h-28zM359 582h1v1h-1zM426 582h3v1h-3zM456 582h3v1h-3zM461 582h2v1h-2zM792 582h6v1h-6zM805 582h1v1h-1zM294 583h4v1h-4zM359 583h1v1h-1zM422 583h4v1h-4zM429 583h2v1h-2zM454 583h2v1h-2zM463 583h2v1h-2zM474 583h3v1h-3zM779 583h13v1h-13zM805 583h1v1h-1zM292 584h2v1h-2zM360 584h1v1h-1zM420 584h2v1h-2zM431 584h2v1h-2zM451 584h3v1h-3zM465 584h2v1h-2zM470 584h4v1h-4zM477 584h2v1h-2zM776 584h3v1h-3zM805 584h1v1h-1zM290 585h2v1h-2zM361 585h1v1h-1zM418 585h2v1h-2zM433 585h2v1h-2zM448 585h3v1h-3zM467 585h3v1h-3zM479 585h2v1h-2zM774 585h2v1h-2zM806 585h1v1h-1zM243 586h5v1h-5zM288 586h2v1h-2zM361 586h1v1h-1zM416 586h2v1h-2zM435 586h5v1h-5zM446 586h2v1h-2zM481 586h2v1h-2zM764 586h10v1h-10zM806 586h1v1h-1zM203 587h3v1h-3zM241 587h2v1h-2zM248 587h21v1h-21zM287 587h1v1h-1zM362 587h1v1h-1zM415 587h1v1h-1zM440 587h6v1h-6zM483 587h2v1h-2zM763 587h1v1h-1zM806 587h1v1h-1zM74 588h3v1h-3zM124 588h2v1h-2zM200 588h3v1h-3zM206 588h4v1h-4zM239 588h2v1h-2zM269 588h2v1h-2zM285 588h2v1h-2zM363 588h1v1h-1zM413 588h2v1h-2zM485 588h1v1h-1zM763 588h1v1h-1zM807 588h1v1h-1zM70 589h4v1h-4zM77 589h2v1h-2zM122 589h2v1h-2zM126 589h2v1h-2zM138 589h3v1h-3zM198 589h2v1h-2zM210 589h4v1h-4zM237 589h2v1h-2zM271 589h1v1h-1zM283 589h2v1h-2zM363 589h1v1h-1zM384 589h13v1h-13zM412 589h1v1h-1zM486 589h1v1h-1zM515 589h2v1h-2zM762 589h1v1h-1zM807 589h1v1h-1zM52 590h18v1h-18zM79 590h2v1h-2zM120 590h2v1h-2zM128 590h3v1h-3zM134 590h4v1h-4zM141 590h1v1h-1zM192 590h6v1h-6zM214 590h2v1h-2zM235 590h2v1h-2zM272 590h2v1h-2zM280 590h3v1h-3zM364 590h1v1h-1zM380 590h4v1h-4zM397 590h2v1h-2zM410 590h2v1h-2zM487 590h1v1h-1zM512 590h3v1h-3zM517 590h1v1h-1zM761 590h1v1h-1zM807 590h1v1h-1zM1212 590h1v1h-1zM51 591h1v1h-1zM81 591h2v1h-2zM119 591h1v1h-1zM131 591h3v1h-3zM142 591h1v1h-1zM184 591h8v1h-8zM216 591h3v1h-3zM233 591h2v1h-2zM274 591h2v1h-2zM278 591h2v1h-2zM365 591h2v1h-2zM378 591h2v1h-2zM399 591h1v1h-1zM408 591h2v1h-2zM488 591h1v1h-1zM510 591h2v1h-2zM518 591h1v1h-1zM731 591h5v1h-5zM761 591h1v1h-1zM808 591h1v1h-1zM1210 591h2v1h-2zM1213 591h2v1h-2zM50 592h1v1h-1zM83 592h5v1h-5zM117 592h2v1h-2zM143 592h1v1h-1zM180 592h4v1h-4zM219 592h3v1h-3zM231 592h2v1h-2zM276 592h2v1h-2zM367 592h1v1h-1zM376 592h2v1h-2zM400 592h2v1h-2zM407 592h1v1h-1zM489 592h1v1h-1zM504 592h6v1h-6zM519 592h1v1h-1zM728 592h3v1h-3zM736 592h5v1h-5zM760 592h1v1h-1zM808 592h1v1h-1zM1208 592h2v1h-2zM1215 592h1v1h-1zM49 593h1v1h-1zM88 593h14v1h-14zM114 593h3v1h-3zM144 593h1v1h-1zM155 593h10v1h-10zM178 593h2v1h-2zM222 593h4v1h-4zM229 593h2v1h-2zM368 593h2v1h-2zM375 593h1v1h-1zM402 593h2v1h-2zM405 593h2v1h-2zM490 593h1v1h-1zM498 593h6v1h-6zM520 593h1v1h-1zM560 593h5v1h-5zM706 593h6v1h-6zM726 593h2v1h-2zM741 593h1v1h-1zM759 593h1v1h-1zM808 593h1v1h-1zM1162 593h4v1h-4zM1207 593h1v1h-1zM1216 593h2v1h-2zM48 594h1v1h-1zM102 594h4v1h-4zM110 594h4v1h-4zM145 594h1v1h-1zM153 594h2v1h-2zM165 594h2v1h-2zM177 594h1v1h-1zM226 594h3v1h-3zM370 594h2v1h-2zM373 594h2v1h-2zM404 594h1v1h-1zM491 594h1v1h-1zM494 594h4v1h-4zM520 594h1v1h-1zM555 594h5v1h-5zM565 594h2v1h-2zM702 594h4v1h-4zM712 594h14v1h-14zM742 594h1v1h-1zM759 594h1v1h-1zM808 594h1v1h-1zM1136 594h8v1h-8zM1158 594h4v1h-4zM1166 594h4v1h-4zM1176 594h5v1h-5zM1205 594h2v1h-2zM1218 594h2v1h-2zM48 595h1v1h-1zM106 595h4v1h-4zM146 595h1v1h-1zM151 595h2v1h-2zM167 595h1v1h-1zM176 595h1v1h-1zM372 595h1v1h-1zM492 595h2v1h-2zM521 595h1v1h-1zM553 595h2v1h-2zM567 595h1v1h-1zM696 595h6v1h-6zM743 595h1v1h-1zM758 595h1v1h-1zM809 595h1v1h-1zM1132 595h4v1h-4zM1144 595h14v1h-14zM1170 595h6v1h-6zM1181 595h2v1h-2zM1202 595h3v1h-3zM1220 595h4v1h-4zM1242 595h3v1h-3zM47 596h1v1h-1zM147 596h1v1h-1zM149 596h2v1h-2zM168 596h2v1h-2zM174 596h2v1h-2zM522 596h1v1h-1zM551 596h2v1h-2zM568 596h2v1h-2zM596 596h1v1h-1zM691 596h5v1h-5zM744 596h2v1h-2zM757 596h1v1h-1zM809 596h1v1h-1zM1131 596h1v1h-1zM1183 596h1v1h-1zM1198 596h4v1h-4zM1224 596h8v1h-8zM1238 596h4v1h-4zM46 597h1v1h-1zM148 597h1v1h-1zM170 597h2v1h-2zM173 597h1v1h-1zM523 597h1v1h-1zM528 597h6v1h-6zM549 597h2v1h-2zM570 597h2v1h-2zM594 597h2v1h-2zM597 597h1v1h-1zM688 597h3v1h-3zM746 597h1v1h-1zM757 597h1v1h-1zM809 597h1v1h-1zM1131 597h1v1h-1zM1184 597h2v1h-2zM1194 597h4v1h-4zM1232 597h6v1h-6zM36 598h4v1h-4zM45 598h1v1h-1zM172 598h1v1h-1zM524 598h4v1h-4zM534 598h2v1h-2zM546 598h3v1h-3zM572 598h4v1h-4zM592 598h2v1h-2zM598 598h1v1h-1zM686 598h2v1h-2zM747 598h1v1h-1zM752 598h5v1h-5zM810 598h1v1h-1zM1130 598h1v1h-1zM1186 598h2v1h-2zM1190 598h4v1h-4zM35 599h1v1h-1zM40 599h5v1h-5zM536 599h3v1h-3zM542 599h4v1h-4zM576 599h6v1h-6zM591 599h1v1h-1zM599 599h1v1h-1zM683 599h3v1h-3zM748 599h4v1h-4zM810 599h1v1h-1zM948 599h1v1h-1zM1130 599h1v1h-1zM1188 599h2v1h-2zM35 600h1v1h-1zM539 600h3v1h-3zM582 600h4v1h-4zM589 600h2v1h-2zM600 600h2v1h-2zM680 600h3v1h-3zM810 600h1v1h-1zM835 600h3v1h-3zM947 600h1v1h-1zM949 600h2v1h-2zM1129 600h1v1h-1zM34 601h1v1h-1zM586 601h3v1h-3zM602 601h1v1h-1zM678 601h2v1h-2zM811 601h1v1h-1zM832 601h3v1h-3zM838 601h4v1h-4zM848 601h5v1h-5zM946 601h1v1h-1zM951 601h1v1h-1zM1128 601h1v1h-1zM34 602h1v1h-1zM603 602h1v1h-1zM674 602h4v1h-4zM811 602h1v1h-1zM830 602h2v1h-2zM842 602h6v1h-6zM853 602h1v1h-1zM900 602h2v1h-2zM945 602h1v1h-1zM952 602h2v1h-2zM1128 602h1v1h-1zM33 603h1v1h-1zM604 603h2v1h-2zM670 603h4v1h-4zM811 603h1v1h-1zM828 603h2v1h-2zM853 603h1v1h-1zM898 603h2v1h-2zM902 603h4v1h-4zM912 603h6v1h-6zM944 603h1v1h-1zM954 603h2v1h-2zM1127 603h1v1h-1zM33 604h1v1h-1zM606 604h4v1h-4zM668 604h2v1h-2zM812 604h1v1h-1zM826 604h2v1h-2zM854 604h1v1h-1zM896 604h2v1h-2zM906 604h6v1h-6zM918 604h2v1h-2zM930 604h3v1h-3zM944 604h1v1h-1zM956 604h17v1h-17zM1126 604h1v1h-1zM32 605h1v1h-1zM610 605h11v1h-11zM667 605h1v1h-1zM812 605h1v1h-1zM825 605h1v1h-1zM855 605h1v1h-1zM895 605h1v1h-1zM920 605h3v1h-3zM926 605h4v1h-4zM933 605h2v1h-2zM943 605h1v1h-1zM973 605h2v1h-2zM1068 605h9v1h-9zM1126 605h1v1h-1zM31 606h1v1h-1zM621 606h2v1h-2zM666 606h1v1h-1zM813 606h2v1h-2zM824 606h1v1h-1zM856 606h1v1h-1zM893 606h2v1h-2zM923 606h3v1h-3zM935 606h2v1h-2zM942 606h1v1h-1zM975 606h1v1h-1zM1067 606h1v1h-1zM1077 606h2v1h-2zM1125 606h1v1h-1zM31 607h1v1h-1zM623 607h2v1h-2zM664 607h2v1h-2zM815 607h2v1h-2zM822 607h2v1h-2zM856 607h1v1h-1zM888 607h5v1h-5zM937 607h2v1h-2zM941 607h1v1h-1zM976 607h2v1h-2zM1066 607h1v1h-1zM1079 607h2v1h-2zM1090 607h6v1h-6zM1125 607h1v1h-1zM30 608h1v1h-1zM625 608h2v1h-2zM663 608h1v1h-1zM817 608h2v1h-2zM821 608h1v1h-1zM857 608h1v1h-1zM883 608h5v1h-5zM939 608h2v1h-2zM978 608h2v1h-2zM1065 608h1v1h-1zM1081 608h2v1h-2zM1086 608h4v1h-4zM1096 608h8v1h-8zM1120 608h5v1h-5zM30 609h1v1h-1zM627 609h3v1h-3zM662 609h1v1h-1zM819 609h2v1h-2zM858 609h1v1h-1zM880 609h3v1h-3zM980 609h1v1h-1zM1064 609h1v1h-1zM1083 609h3v1h-3zM1104 609h16v1h-16zM29 610h1v1h-1zM630 610h4v1h-4zM652 610h4v1h-4zM661 610h1v1h-1zM859 610h1v1h-1zM866 610h6v1h-6zM878 610h2v1h-2zM981 610h2v1h-2zM1018 610h4v1h-4zM1063 610h1v1h-1zM29 611h1v1h-1zM634 611h3v1h-3zM650 611h2v1h-2zM656 611h5v1h-5zM859 611h1v1h-1zM862 611h4v1h-4zM872 611h6v1h-6zM983 611h1v1h-1zM1004 611h4v1h-4zM1014 611h4v1h-4zM1022 611h2v1h-2zM1050 611h4v1h-4zM1062 611h1v1h-1zM26 612h3v1h-3zM637 612h2v1h-2zM648 612h2v1h-2zM860 612h2v1h-2zM984 612h2v1h-2zM1002 612h2v1h-2zM1008 612h6v1h-6zM1024 612h3v1h-3zM1032 612h8v1h-8zM1046 612h4v1h-4zM1054 612h4v1h-4zM1061 612h1v1h-1zM22 613h4v1h-4zM639 613h2v1h-2zM647 613h1v1h-1zM986 613h2v1h-2zM1001 613h1v1h-1zM1027 613h5v1h-5zM1040 613h6v1h-6zM1058 613h3v1h-3zM16 614h6v1h-6zM641 614h2v1h-2zM645 614h2v1h-2zM988 614h2v1h-2zM1000 614h1v1h-1zM10 615h6v1h-6zM643 615h2v1h-2zM990 615h2v1h-2zM998 615h2v1h-2zM6 616h4v1h-4zM992 616h3v1h-3zM997 616h1v1h-1zM4 617h2v1h-2zM995 617h2v1h-2z" fill="#1e90ff" shape-rendering="crispEdges"/>
<text x="8.3" y="568" font-size="10" fill="#000" stroke="#000" stroke-width="0.2" textLength="67.4" lengthAdjust="spacingAndGlyphs">RSI(14) 58.9144</text>
</svg>
<g shape-rendering="crispEdges">
<rect x="1581" y="557" width="1" height="1" fill="#000"/>
<rect x="1581" y="650" width="1" height="1" fill="#000"/>
</g>
<text x="1584.6" y="566" font-size="10.2" fill="#000" stroke="#000" stroke-width="0.2" textLength="15" lengthAdjust="spacingAndGlyphs">100</text>
<text x="1584.6" y="589" font-size="10.2" fill="#000" stroke="#000" stroke-width="0.2" textLength="10" lengthAdjust="spacingAndGlyphs">70</text>
<text x="1584.6" y="626" font-size="10.2" fill="#000" stroke="#000" stroke-width="0.2" textLength="10" lengthAdjust="spacingAndGlyphs">30</text>
<text x="1584.6" y="648" font-size="10.2" fill="#000" stroke="#000" stroke-width="0.2" textLength="5" lengthAdjust="spacingAndGlyphs">0</text>
<svg x="4" y="654" width="1576" height="95" viewBox="4 654 1576 95" overflow="hidden">
<g shape-rendering="crispEdges">
<rect x="4" y="717" width="1" height="19" fill="#c0c0c0"/>
<rect x="12" y="717" width="1" height="22" fill="#c0c0c0"/>
<rect x="20" y="717" width="1" height="23" fill="#c0c0c0"/>
<rect x="28" y="717" width="1" height="24" fill="#c0c0c0"/>
<rect x="36" y="717" width="1" height="17" fill="#c0c0c0"/>
<rect x="44" y="717" width="1" height="11" fill="#c0c0c0"/>
<rect x="60" y="710" width="1" height="8" fill="#c0c0c0"/>
<rect x="68" y="704" width="1" height="14" fill="#c0c0c0"/>
<rect x="76" y="698" width="1" height="20" fill="#c0c0c0"/>
<rect x="84" y="694" width="1" height="24" fill="#c0c0c0"/>
<rect x="92" y="692" width="1" height="26" fill="#c0c0c0"/>
<rect x="100" y="691" width="1" height="27" fill="#c0c0c0"/>
<rect x="108" y="691" width="1" height="27" fill="#c0c0c0"/>
<rect x="116" y="691" width="1" height="27" fill="#c0c0c0"/>
<rect x="124" y="688" width="1" height="30" fill="#c0c0c0"/>
<rect x="132" y="687" width="1" height="31" fill="#c0c0c0"/>
<rect x="140" y="685" width="1" height="33" fill="#c0c0c0"/>
<rect x="148" y="688" width="1" height="30" fill="#c0c0c0"/>
<rect x="156" y="686" width="1" height="32" fill="#c0c0c0"/>
<rect x="164" y="686" width="1" height="32" fill="#c0c0c0"/>
<rect x="172" y="689" width="1" height="29" fill="#c0c0c0"/>
<rect x="180" y="686" width="1" height="32" fill="#c0c0c0"/>
<rect x="188" y="686" width="1" height="32" fill="#c0c0c0"/>
<rect x="196" y="685" width="1" height="33" fill="#c0c0c0"/>
<rect x="204" y="682" width="1" height="36" fill="#c0c0c0"/>
<rect x="212" y="681" width="1" height="37" fill="#c0c0c0"/>
<rect x="220" y="682" width="1" height="36" fill="#c0c0c0"/>
<rect x="228" y="683" width="1" height="35" fill="#c0c0c0"/>
<rect x="236" y="684" width="1" height="34" fill="#c0c0c0"/>
<rect x="244" y="680" width="1" height="38" fill="#c0c0c0"/>
<rect x="252" y="679" width="1" height="39" fill="#c0c0c0"/>
<rect x="260" y="678" width="1" height="40" fill="#c0c0c0"/>
<rect x="268" y="678" width="1" height="40" fill="#c0c0c0"/>
<rect x="276" y="680" width="1" height="38" fill="#c0c0c0"/>
<rect x="284" y="679" width="1" height="39" fill="#c0c0c0"/>
<rect x="292" y="675" width="1" height="43" fill="#c0c0c0"/>
<rect x="300" y="672" width="1" height="46" fill="#c0c0c0"/>
<rect x="308" y="670" width="1" height="48" fill="#c0c0c0"/>
<rect x="316" y="669" width="1" height="49" fill="#c0c0c0"/>
<rect x="324" y="668" width="1" height="50" fill="#c0c0c0"/>
<rect x="332" y="667" width="1" height="51" fill="#c0c0c0"/>
<rect x="340" y="664" width="1" height="54" fill="#c0c0c0"/>
<rect x="348" y="662" width="1" height="56" fill="#c0c0c0"/>
<rect x="356" y="661" width="1" height="57" fill="#c0c0c0"/>
<rect x="364" y="664" width="1" height="54" fill="#c0c0c0"/>
<rect x="372" y="670" width="1" height="48" fill="#c0c0c0"/>
<rect x="380" y="671" width="1" height="47" fill="#c0c0c0"/>
<rect x="388" y="672" width="1" height="46" fill="#c0c0c0"/>
<rect x="396" y="673" width="1" height="45" fill="#c0c0c0"/>
<rect x="404" y="676" width="1" height="42" fill="#c0c0c0"/>
<rect x="412" y="676" width="1" height="42" fill="#c0c0c0"/>
<rect x="420" y="672" width="1" height="46" fill="#c0c0c0"/>
<rect x="428" y="668" width="1" height="50" fill="#c0c0c0"/>
<rect x="436" y="667" width="1" height="51" fill="#c0c0c0"/>
<rect x="444" y="667" width="1" height="51" fill="#c0c0c0"/>
<rect x="452" y="665" width="1" height="53" fill="#c0c0c0"/>
<rect x="460" y="662" width="1" height="56" fill="#c0c0c0"/>
<rect x="468" y="662" width="1" height="56" fill="#c0c0c0"/>
<rect x="476" y="660" width="1" height="58" fill="#c0c0c0"/>
<rect x="484" y="661" width="1" height="57" fill="#c0c0c0"/>
<rect x="492" y="666" width="1" height="52" fill="#c0c0c0"/>
<rect x="500" y="668" width="1" height="50" fill="#c0c0c0"/>
<rect x="508" y="670" width="1" height="48" fill="#c0c0c0"/>
<rect x="516" y="670" width="1" height="48" fill="#c0c0c0"/>
<rect x="524" y="674" width="1" height="44" fill="#c0c0c0"/>
<rect x="532" y="678" width="1" height="40" fill="#c0c0c0"/>
<rect x="540" y="683" width="1" height="35" fill="#c0c0c0"/>
<rect x="548" y="686" width="1" height="32" fill="#c0c0c0"/>
<rect x="556" y="686" width="1" height="32" fill="#c0c0c0"/>
<rect x="564" y="686" width="1" height="32" fill="#c0c0c0"/>
<rect x="572" y="688" width="1" height="30" fill="#c0c0c0"/>
<rect x="580" y="691" width="1" height="27" fill="#c0c0c0"/>
<rect x="588" y="694" width="1" height="24" fill="#c0c0c0"/>
<rect x="596" y="694" width="1" height="24" fill="#c0c0c0"/>
<rect x="604" y="698" width="1" height="20" fill="#c0c0c0"/>
<rect x="612" y="702" width="1" height="16" fill="#c0c0c0"/>
<rect x="620" y="705" width="1" height="13" fill="#c0c0c0"/>
<rect x="628" y="710" width="1" height="8" fill="#c0c0c0"/>
<rect x="636" y="715" width="1" height="3" fill="#c0c0c0"/>
<rect x="644" y="717" width="1" height="3" fill="#c0c0c0"/>
<rect x="652" y="717" width="1" height="6" fill="#c0c0c0"/>
<rect x="660" y="717" width="1" height="9" fill="#c0c0c0"/>
<rect x="668" y="717" width="1" height="8" fill="#c0c0c0"/>
<rect x="676" y="717" width="1" height="6" fill="#c0c0c0"/>
<rect x="684" y="717" width="1" height="1" fill="#c0c0c0"/>
<rect x="692" y="717" width="1" height="1" fill="#c0c0c0"/>
<rect x="700" y="713" width="1" height="5" fill="#c0c0c0"/>
<rect x="708" y="709" width="1" height="9" fill="#c0c0c0"/>
<rect x="716" y="706" width="1" height="12" fill="#c0c0c0"/>
<rect x="724" y="704" width="1" height="14" fill="#c0c0c0"/>
<rect x="732" y="701" width="1" height="17" fill="#c0c0c0"/>
<rect x="740" y="699" width="1" height="19" fill="#c0c0c0"/>
<rect x="748" y="700" width="1" height="18" fill="#c0c0c0"/>
<rect x="756" y="701" width="1" height="17" fill="#c0c0c0"/>
<rect x="764" y="695" width="1" height="23" fill="#c0c0c0"/>
<rect x="772" y="690" width="1" height="28" fill="#c0c0c0"/>
<rect x="780" y="685" width="1" height="33" fill="#c0c0c0"/>
<rect x="788" y="680" width="1" height="38" fill="#c0c0c0"/>
<rect x="796" y="677" width="1" height="41" fill="#c0c0c0"/>
<rect x="804" y="673" width="1" height="45" fill="#c0c0c0"/>
<rect x="812" y="682" width="1" height="36" fill="#c0c0c0"/>
<rect x="820" y="691" width="1" height="27" fill="#c0c0c0"/>
<rect x="828" y="695" width="1" height="23" fill="#c0c0c0"/>
<rect x="836" y="696" width="1" height="22" fill="#c0c0c0"/>
<rect x="844" y="698" width="1" height="20" fill="#c0c0c0"/>
<rect x="852" y="700" width="1" height="18" fill="#c0c0c0"/>
<rect x="860" y="710" width="1" height="8" fill="#c0c0c0"/>
<rect x="868" y="716" width="1" height="2" fill="#c0c0c0"/>
<rect x="876" y="717" width="1" height="3" fill="#c0c0c0"/>
<rect x="884" y="717" width="1" height="6" fill="#c0c0c0"/>
<rect x="892" y="717" width="1" height="8" fill="#c0c0c0"/>
<rect x="900" y="717" width="1" height="6" fill="#c0c0c0"/>
<rect x="908" y="717" width="1" height="5" fill="#c0c0c0"/>
<rect x="916" y="717" width="1" height="3" fill="#c0c0c0"/>
<rect x="924" y="717" width="1" height="2" fill="#c0c0c0"/>
<rect x="932" y="717" width="1" height="3" fill="#c0c0c0"/>
<rect x="940" y="717" width="1" height="5" fill="#c0c0c0"/>
<rect x="948" y="717" width="1" height="2" fill="#c0c0c0"/>
<rect x="956" y="717" width="1" height="2" fill="#c0c0c0"/>
<rect x="964" y="717" width="1" height="2" fill="#c0c0c0"/>
<rect x="972" y="717" width="1" height="2" fill="#c0c0c0"/>
<rect x="980" y="717" width="1" height="3" fill="#c0c0c0"/>
<rect x="988" y="717" width="1" height="11" fill="#c0c0c0"/>
<rect x="996" y="717" width="1" height="18" fill="#c0c0c0"/>
<rect x="1004" y="717" width="1" height="21" fill="#c0c0c0"/>
<rect x="1012" y="717" width="1" height="23" fill="#c0c0c0"/>
<rect x="1020" y="717" width="1" height="23" fill="#c0c0c0"/>
<rect x="1028" y="717" width="1" height="24" fill="#c0c0c0"/>
<rect x="1036" y="717" width="1" height="25" fill="#c0c0c0"/>
<rect x="1044" y="717" width="1" height="26" fill="#c0c0c0"/>
<rect x="1052" y="717" width="1" height="27" fill="#c0c0c0"/>
<rect x="1060" y="717" width="1" height="26" fill="#c0c0c0"/>
<rect x="1068" y="717" width="1" height="24" fill="#c0c0c0"/>
<rect x="1076" y="717" width="1" height="21" fill="#c0c0c0"/>
<rect x="1084" y="717" width="1" height="20" fill="#c0c0c0"/>
<rect x="1092" y="717" width="1" height="19" fill="#c0c0c0"/>
<rect x="1100" y="717" width="1" height="18" fill="#c0c0c0"/>
<rect x="1108" y="717" width="1" height="17" fill="#c0c0c0"/>
<rect x="1116" y="717" width="1" height="17" fill="#c0c0c0"/>
<rect x="1124" y="717" width="1" height="16" fill="#c0c0c0"/>
<rect x="1132" y="717" width="1" height="9" fill="#c0c0c0"/>
<rect x="1140" y="717" width="1" height="3" fill="#c0c0c0"/>
<rect x="1148" y="717" width="1" height="1" fill="#c0c0c0"/>
<rect x="1156" y="714" width="1" height="4" fill="#c0c0c0"/>
<rect x="1164" y="710" width="1" height="8" fill="#c0c0c0"/>
<rect x="1172" y="708" width="1" height="10" fill="#c0c0c0"/>
<rect x="1180" y="705" width="1" height="13" fill="#c0c0c0"/>
<rect x="1188" y="705" width="1" height="13" fill="#c0c0c0"/>
<rect x="1196" y="705" width="1" height="13" fill="#c0c0c0"/>
<rect x="1204" y="703" width="1" height="15" fill="#c0c0c0"/>
<rect x="1212" y="700" width="1" height="18" fill="#c0c0c0"/>
<rect x="1220" y="699" width="1" height="19" fill="#c0c0c0"/>
<rect x="1228" y="699" width="1" height="19" fill="#c0c0c0"/>
<rect x="1236" y="700" width="1" height="18" fill="#c0c0c0"/>
<rect x="1244" y="699" width="1" height="19" fill="#c0c0c0"/>
</g>
<path d="M490 663h3v1h-3zM496 663h3v1h-3zM502 663h3v1h-3zM508 663h3v1h-3zM484 664h3v1h-3zM514 664h3v1h-3zM360 665h1v1h-1zM364 665h3v1h-3zM370 665h3v1h-3zM376 665h3v1h-3zM382 665h3v1h-3zM388 665h3v1h-3zM478 665h3v1h-3zM520 665h2v1h-2zM354 666h1v1h-1zM358 666h2v1h-2zM394 666h3v1h-3zM472 666h3v1h-3zM522 666h1v1h-1zM526 666h2v1h-2zM352 667h2v1h-2zM400 667h3v1h-3zM406 667h2v1h-2zM466 667h3v1h-3zM528 667h1v1h-1zM532 667h2v1h-2zM346 668h3v1h-3zM408 668h1v1h-1zM412 668h3v1h-3zM460 668h3v1h-3zM534 668h1v1h-1zM342 669h1v1h-1zM418 669h3v1h-3zM454 669h3v1h-3zM538 669h3v1h-3zM340 670h2v1h-2zM424 670h3v1h-3zM430 670h3v1h-3zM436 670h3v1h-3zM442 670h3v1h-3zM448 670h3v1h-3zM334 671h3v1h-3zM544 671h3v1h-3zM328 672h3v1h-3zM322 673h3v1h-3zM550 673h3v1h-3zM312 674h1v1h-1zM316 674h3v1h-3zM556 674h2v1h-2zM306 675h1v1h-1zM310 675h2v1h-2zM558 675h1v1h-1zM304 676h2v1h-2zM562 676h3v1h-3zM298 677h3v1h-3zM568 677h2v1h-2zM294 678h1v1h-1zM570 678h1v1h-1zM268 679h3v1h-3zM274 679h3v1h-3zM280 679h3v1h-3zM286 679h3v1h-3zM292 679h2v1h-2zM574 679h2v1h-2zM262 680h3v1h-3zM576 680h1v1h-1zM250 681h3v1h-3zM256 681h3v1h-3zM580 681h2v1h-2zM240 682h1v1h-1zM244 682h3v1h-3zM582 682h1v1h-1zM216 683h1v1h-1zM220 683h3v1h-3zM226 683h3v1h-3zM232 683h3v1h-3zM238 683h2v1h-2zM586 683h3v1h-3zM202 684h3v1h-3zM208 684h3v1h-3zM214 684h2v1h-2zM826 684h3v1h-3zM832 684h3v1h-3zM838 684h3v1h-3zM844 684h2v1h-2zM184 685h3v1h-3zM190 685h3v1h-3zM196 685h3v1h-3zM592 685h3v1h-3zM816 685h1v1h-1zM820 685h3v1h-3zM846 685h1v1h-1zM168 686h1v1h-1zM172 686h3v1h-3zM178 686h3v1h-3zM810 686h1v1h-1zM814 686h2v1h-2zM850 686h3v1h-3zM154 687h3v1h-3zM160 687h3v1h-3zM166 687h2v1h-2zM598 687h3v1h-3zM808 687h2v1h-2zM148 688h3v1h-3zM604 688h2v1h-2zM803 688h2v1h-2zM856 688h1v1h-1zM142 689h3v1h-3zM606 689h1v1h-1zM802 689h1v1h-1zM857 689h2v1h-2zM136 690h3v1h-3zM610 690h3v1h-3zM798 690h1v1h-1zM131 691h2v1h-2zM796 691h2v1h-2zM862 691h1v1h-1zM130 692h1v1h-1zM616 692h3v1h-3zM792 692h1v1h-1zM863 692h2v1h-2zM126 693h1v1h-1zM790 693h2v1h-2zM124 694h2v1h-2zM622 694h3v1h-3zM868 694h1v1h-1zM628 695h2v1h-2zM784 695h3v1h-3zM869 695h1v1h-1zM119 696h2v1h-2zM630 696h1v1h-1zM870 696h1v1h-1zM118 697h1v1h-1zM634 697h1v1h-1zM779 697h2v1h-2zM635 698h2v1h-2zM778 698h1v1h-1zM113 699h2v1h-2zM774 699h1v1h-1zM874 699h2v1h-2zM112 700h1v1h-1zM640 700h1v1h-1zM772 700h2v1h-2zM876 700h1v1h-1zM641 701h2v1h-2zM768 701h1v1h-1zM1240 701h3v1h-3zM108 702h1v1h-1zM766 702h2v1h-2zM1234 702h3v1h-3zM106 703h2v1h-2zM646 703h2v1h-2zM762 703h1v1h-1zM880 703h2v1h-2zM1224 703h1v1h-1zM1228 703h3v1h-3zM648 704h1v1h-1zM760 704h2v1h-2zM882 704h1v1h-1zM1218 704h1v1h-1zM1222 704h2v1h-2zM652 705h1v1h-1zM754 705h3v1h-3zM1216 705h2v1h-2zM101 706h2v1h-2zM653 706h2v1h-2zM750 706h1v1h-1zM886 706h1v1h-1zM1211 706h2v1h-2zM100 707h1v1h-1zM748 707h2v1h-2zM887 707h2v1h-2zM1210 707h1v1h-1zM658 708h1v1h-1zM742 708h3v1h-3zM1206 708h1v1h-1zM659 709h2v1h-2zM892 709h2v1h-2zM1204 709h2v1h-2zM96 710h1v1h-1zM736 710h3v1h-3zM894 710h1v1h-1zM1198 710h3v1h-3zM94 711h2v1h-2zM664 711h1v1h-1zM898 711h1v1h-1zM665 712h2v1h-2zM731 712h2v1h-2zM899 712h2v1h-2zM1192 712h3v1h-3zM730 713h1v1h-1zM90 714h1v1h-1zM670 714h3v1h-3zM726 714h1v1h-1zM904 714h3v1h-3zM1187 714h2v1h-2zM88 715h2v1h-2zM676 715h2v1h-2zM724 715h2v1h-2zM1186 715h1v1h-1zM678 716h1v1h-1zM718 716h3v1h-3zM910 716h3v1h-3zM682 717h3v1h-3zM714 717h1v1h-1zM916 717h2v1h-2zM1181 717h2v1h-2zM83 718h2v1h-2zM688 718h2v1h-2zM712 718h2v1h-2zM918 718h1v1h-1zM1180 718h1v1h-1zM82 719h1v1h-1zM690 719h1v1h-1zM694 719h2v1h-2zM706 719h3v1h-3zM922 719h1v1h-1zM1174 719h3v1h-3zM696 720h1v1h-1zM700 720h3v1h-3zM923 720h2v1h-2zM970 720h3v1h-3zM976 720h3v1h-3zM982 720h2v1h-2zM77 721h2v1h-2zM928 721h3v1h-3zM934 721h2v1h-2zM960 721h1v1h-1zM964 721h3v1h-3zM984 721h1v1h-1zM988 721h2v1h-2zM1168 721h3v1h-3zM76 722h1v1h-1zM936 722h1v1h-1zM940 722h3v1h-3zM946 722h3v1h-3zM952 722h3v1h-3zM958 722h2v1h-2zM990 722h1v1h-1zM994 723h3v1h-3zM1163 723h2v1h-2zM72 724h1v1h-1zM1000 724h3v1h-3zM1162 724h1v1h-1zM71 725h1v1h-1zM1006 725h3v1h-3zM1158 725h1v1h-1zM70 726h1v1h-1zM1012 726h2v1h-2zM1156 726h2v1h-2zM1014 727h1v1h-1zM1152 727h1v1h-1zM64 728h3v1h-3zM1018 728h1v1h-1zM1150 728h2v1h-2zM1019 729h2v1h-2zM59 730h2v1h-2zM1024 730h2v1h-2zM1144 730h3v1h-3zM58 731h1v1h-1zM1026 731h1v1h-1zM54 732h1v1h-1zM1030 732h3v1h-3zM1138 732h3v1h-3zM4 733h3v1h-3zM10 733h3v1h-3zM48 733h1v1h-1zM52 733h2v1h-2zM1036 733h2v1h-2zM1134 733h1v1h-1zM16 734h3v1h-3zM22 734h3v1h-3zM28 734h3v1h-3zM34 734h3v1h-3zM40 734h3v1h-3zM46 734h2v1h-2zM1038 734h1v1h-1zM1132 734h2v1h-2zM1042 735h1v1h-1zM1128 735h1v1h-1zM1043 736h2v1h-2zM1126 736h2v1h-2zM1120 737h3v1h-3zM1048 738h3v1h-3zM1114 738h3v1h-3zM1104 739h1v1h-1zM1108 739h3v1h-3zM1054 740h2v1h-2zM1096 740h3v1h-3zM1102 740h2v1h-2zM1056 741h1v1h-1zM1080 741h1v1h-1zM1084 741h3v1h-3zM1090 741h3v1h-3zM1060 742h3v1h-3zM1066 742h3v1h-3zM1072 742h3v1h-3zM1078 742h2v1h-2z" fill="#ff0000" shape-rendering="crispEdges"/>
<text x="8.5" y="666" font-size="10" fill="#000" stroke="#000" stroke-width="0.2" textLength="147" lengthAdjust="spacingAndGlyphs">MACD(12,26,9) 0.002607 0.002265</text>
</svg>
<g shape-rendering="crispEdges">
<rect x="1581" y="655" width="1" height="1" fill="#000"/>
<rect x="1581" y="717" width="1" height="1" fill="#000"/>
<rect x="1581" y="748" width="1" height="1" fill="#000"/>
</g>
<text x="1584" y="664" font-size="10.2" fill="#000" stroke="#000" stroke-width="0.2" textLength="38" lengthAdjust="spacingAndGlyphs">0.008782</text>
<text x="1584" y="721" font-size="10.2" fill="#000" stroke="#000" stroke-width="0.2" textLength="18.3" lengthAdjust="spacingAndGlyphs">0.00</text>
<text x="1584" y="746" font-size="10.2" fill="#000" stroke="#000" stroke-width="0.2" textLength="42" lengthAdjust="spacingAndGlyphs">-0.004451</text>
<g shape-rendering="crispEdges">
<rect x="4" y="750" width="1" height="3" fill="#000"/>
<rect x="68" y="750" width="1" height="3" fill="#000"/>
<rect x="132" y="750" width="1" height="3" fill="#000"/>
<rect x="196" y="750" width="1" height="3" fill="#000"/>
<rect x="260" y="750" width="1" height="3" fill="#000"/>
<rect x="324" y="750" width="1" height="3" fill="#000"/>
<rect x="388" y="750" width="1" height="3" fill="#000"/>
<rect x="452" y="750" width="1" height="3" fill="#000"/>
<rect x="516" y="750" width="1" height="3" fill="#000"/>
<rect x="580" y="750" width="1" height="3" fill="#000"/>
<rect x="644" y="750" width="1" height="3" fill="#000"/>
<rect x="708" y="750" width="1" height="3" fill="#000"/>
<rect x="772" y="750" width="1" height="3" fill="#000"/>
<rect x="836" y="750" width="1" height="3" fill="#000"/>
<rect x="900" y="750" width="1" height="3" fill="#000"/>
<rect x="964" y="750" width="1" height="3" fill="#000"/>
<rect x="1028" y="750" width="1" height="3" fill="#000"/>
<rect x="1092" y="750" width="1" height="3" fill="#000"/>
<rect x="1156" y="750" width="1" height="3" fill="#000"/>
<rect x="1220" y="750" width="1" height="3" fill="#000"/>
</g>
<text x="2.6" y="762" font-size="10" fill="#000" stroke="#000" stroke-width="0.2" textLength="51.5" lengthAdjust="spacingAndGlyphs">29 Oct 2020</text>
<text x="66.6" y="762" font-size="10" fill="#000" stroke="#000" stroke-width="0.2" textLength="49.7" lengthAdjust="spacingAndGlyphs">7 Nov 2020</text>
<text x="130.6" y="762" font-size="10" fill="#000" stroke="#000" stroke-width="0.2" textLength="54.1" lengthAdjust="spacingAndGlyphs">17 Nov 2020</text>
<text x="194.6" y="762" font-size="10" fill="#000" stroke="#000" stroke-width="0.2" textLength="54.4" lengthAdjust="spacingAndGlyphs">26 Nov 2020</text>
<text x="258.6" y="762" font-size="10" fill="#000" stroke="#000" stroke-width="0.2" textLength="47.7" lengthAdjust="spacingAndGlyphs">5 Dec 2020</text>
<text x="322.6" y="762" font-size="10" fill="#000" stroke="#000" stroke-width="0.2" textLength="52" lengthAdjust="spacingAndGlyphs">15 Dec 2020</text>
<text x="386.6" y="762" font-size="10" fill="#000" stroke="#000" stroke-width="0.2" textLength="52.7" lengthAdjust="spacingAndGlyphs">24 Dec 2020</text>
<text x="450.6" y="762" font-size="10" fill="#000" stroke="#000" stroke-width="0.2" textLength="44.6" lengthAdjust="spacingAndGlyphs">5 Jan 2021</text>
<text x="514.6" y="762" font-size="10" fill="#000" stroke="#000" stroke-width="0.2" textLength="49.9" lengthAdjust="spacingAndGlyphs">14 Jan 2021</text>
<text x="578.6" y="762" font-size="10" fill="#000" stroke="#000" stroke-width="0.2" textLength="50.4" lengthAdjust="spacingAndGlyphs">23 Jan 2021</text>
<text x="642.6" y="762" font-size="10" fill="#000" stroke="#000" stroke-width="0.2" textLength="46.5" lengthAdjust="spacingAndGlyphs">2 Feb 2021</text>
<text x="706.6" y="762" font-size="10" fill="#000" stroke="#000" stroke-width="0.2" textLength="52.1" lengthAdjust="spacingAndGlyphs">11 Feb 2021</text>
<text x="770.6" y="762" font-size="10" fill="#000" stroke="#000" stroke-width="0.2" textLength="52.1" lengthAdjust="spacingAndGlyphs">20 Feb 2021</text>
<text x="834.6" y="762" font-size="10" fill="#000" stroke="#000" stroke-width="0.2" textLength="46.1" lengthAdjust="spacingAndGlyphs">2 Mar 2021</text>
<text x="898.6" y="762" font-size="10" fill="#000" stroke="#000" stroke-width="0.2" textLength="51.8" lengthAdjust="spacingAndGlyphs">11 Mar 2021</text>
<text x="962.6" y="762" font-size="10" fill="#000" stroke="#000" stroke-width="0.2" textLength="51.9" lengthAdjust="spacingAndGlyphs">20 Mar 2021</text>
<text x="1026.6" y="762" font-size="10" fill="#000" stroke="#000" stroke-width="0.2" textLength="52.4" lengthAdjust="spacingAndGlyphs">30 Mar 2021</text>
<text x="1090.6" y="762" font-size="10" fill="#000" stroke="#000" stroke-width="0.2" textLength="45.3" lengthAdjust="spacingAndGlyphs">8 Apr 2021</text>
<text x="1154.6" y="762" font-size="10" fill="#000" stroke="#000" stroke-width="0.2" textLength="50.4" lengthAdjust="spacingAndGlyphs">17 Apr 2021</text>
<text x="1218.6" y="762" font-size="10" fill="#000" stroke="#000" stroke-width="0.2" textLength="50.4" lengthAdjust="spacingAndGlyphs">27 Apr 2021</text>
<rect x="0" y="770" width="1623" height="1" fill="#e8e8e8"/>
<rect x="0" y="771" width="1623" height="1" fill="#fff"/>
<rect x="0" y="772" width="1623" height="1" fill="#000"/>
<rect x="0" y="773" width="1623" height="23" fill="#f0f0f0"/>
<rect x="1" y="773" width="1623" height="1" fill="#fafafa"/>
<rect x="1" y="773" width="1" height="18" fill="#fafafa"/>
<rect x="0" y="792" width="1623" height="1" fill="#fafafa"/>
<rect x="0" y="773" width="1" height="18" fill="#555"/>
<rect x="209" y="771" width="104" height="20" fill="#fff"/>
<g shape-rendering="crispEdges">
<rect x="209" y="772" width="1" height="19" fill="#000"/>
<rect x="312" y="772" width="1" height="19" fill="#000"/>
<rect x="209" y="790" width="104" height="1" fill="#000"/>
</g>
<text x="17.7" y="787" font-size="12.5" fill="#6d6d6d" stroke="#6d6d6d" stroke-width="0" textLength="79.2" lengthAdjust="spacingAndGlyphs">EURUSD,Daily</text>
<text x="119.4" y="787" font-size="12.5" fill="#6d6d6d" stroke="#6d6d6d" stroke-width="0" textLength="78.2" lengthAdjust="spacingAndGlyphs">USDCHF,Daily</text>
<text x="220.6" y="787" font-size="12.5" fill="#000" stroke="#000" stroke-width="0" textLength="81.6" lengthAdjust="spacingAndGlyphs">AUDUSD,Daily</text>
<text x="324" y="787" font-size="12.5" fill="#6d6d6d" stroke="#6d6d6d" stroke-width="0" textLength="81.1" lengthAdjust="spacingAndGlyphs">USDCAD,Daily</text>
<text x="427.2" y="787" font-size="12.5" fill="#6d6d6d" stroke="#6d6d6d" stroke-width="0" textLength="82.7" lengthAdjust="spacingAndGlyphs">USDCNH,Daily</text>
<text x="533.3" y="787" font-size="12.5" fill="#6d6d6d" stroke="#6d6d6d" stroke-width="0" textLength="79.7" lengthAdjust="spacingAndGlyphs">EURUSD,Daily</text>
<text x="637.1" y="787" font-size="12.5" fill="#6d6d6d" stroke="#6d6d6d" stroke-width="0" textLength="80.1" lengthAdjust="spacingAndGlyphs">GBPUSD,Daily</text>
<text x="739.9" y="787" font-size="12.5" fill="#6d6d6d" stroke="#6d6d6d" stroke-width="0" textLength="68.9" lengthAdjust="spacingAndGlyphs">XAUUSD,H4</text>
<text x="833" y="787" font-size="12.5" fill="#6d6d6d" stroke="#6d6d6d" stroke-width="0" textLength="59.9" lengthAdjust="spacingAndGlyphs">HK50,M15</text>
<text x="916" y="787" font-size="12.5" fill="#6d6d6d" stroke="#6d6d6d" stroke-width="0" textLength="57" lengthAdjust="spacingAndGlyphs">UK100,H1</text>
<text x="996.1" y="787" font-size="12.5" fill="#6d6d6d" stroke="#6d6d6d" stroke-width="0" textLength="57" lengthAdjust="spacingAndGlyphs">UK100,H1</text>
<text x="1076.2" y="787" font-size="12.5" fill="#6d6d6d" stroke="#6d6d6d" stroke-width="0" textLength="57" lengthAdjust="spacingAndGlyphs">GER30,H1</text>
<text x="1155" y="787" font-size="12.5" fill="#6d6d6d" stroke="#6d6d6d" stroke-width="0" textLength="54.5" lengthAdjust="spacingAndGlyphs">FRA40,H1</text>
<text x="1231" y="787" font-size="12.5" fill="#6d6d6d" stroke="#6d6d6d" stroke-width="0" textLength="50.6" lengthAdjust="spacingAndGlyphs">USOil,H1</text>
<text x="1303.2" y="787" font-size="12.5" fill="#6d6d6d" stroke="#6d6d6d" stroke-width="0" textLength="62.4" lengthAdjust="spacingAndGlyphs">USDJPY,H1</text>
<text x="1388.2" y="787" font-size="12.5" fill="#6d6d6d" stroke="#6d6d6d" stroke-width="0" textLength="72.9" lengthAdjust="spacingAndGlyphs">DJ30,Weekly</text>
<text x="1483.3" y="787" font-size="12.5" fill="#6d6d6d" stroke="#6d6d6d" stroke-width="0" textLength="78.4" lengthAdjust="spacingAndGlyphs">CHINA300,H1</text>
<g shape-rendering="crispEdges">
<rect x="109" y="775" width="1" height="14" fill="#6d6d6d"/>
<rect x="417" y="775" width="1" height="14" fill="#6d6d6d"/>
<rect x="521" y="775" width="1" height="14" fill="#6d6d6d"/>
<rect x="625" y="775" width="1" height="14" fill="#6d6d6d"/>
<rect x="729" y="775" width="1" height="14" fill="#6d6d6d"/>
<rect x="821" y="775" width="1" height="14" fill="#6d6d6d"/>
<rect x="905" y="775" width="1" height="14" fill="#6d6d6d"/>
<rect x="985" y="775" width="1" height="14" fill="#6d6d6d"/>
<rect x="1065" y="775" width="1" height="14" fill="#6d6d6d"/>
<rect x="1145" y="775" width="1" height="14" fill="#6d6d6d"/>
<rect x="1221" y="775" width="1" height="14" fill="#6d6d6d"/>
<rect x="1293" y="775" width="1" height="14" fill="#6d6d6d"/>
<rect x="1377" y="775" width="1" height="14" fill="#6d6d6d"/>
<rect x="1473" y="775" width="1" height="14" fill="#6d6d6d"/>
<rect x="1573" y="775" width="1" height="14" fill="#6d6d6d"/>
</g>
<text x="1583.5" y="787" font-size="12.5" fill="#6d6d6d" stroke="#6d6d6d" stroke-width="0">U</text>
<rect x="1591" y="774" width="32" height="17" fill="#f0f0f0"/>
<path d="M1599.5 778 L1599.5 784.5 L1596 781.2Z" fill="#8a8a8a"/>
<path d="M1615 778 L1615 784.5 L1618.5 781.2Z" fill="#000"/>
</svg></body></html>
